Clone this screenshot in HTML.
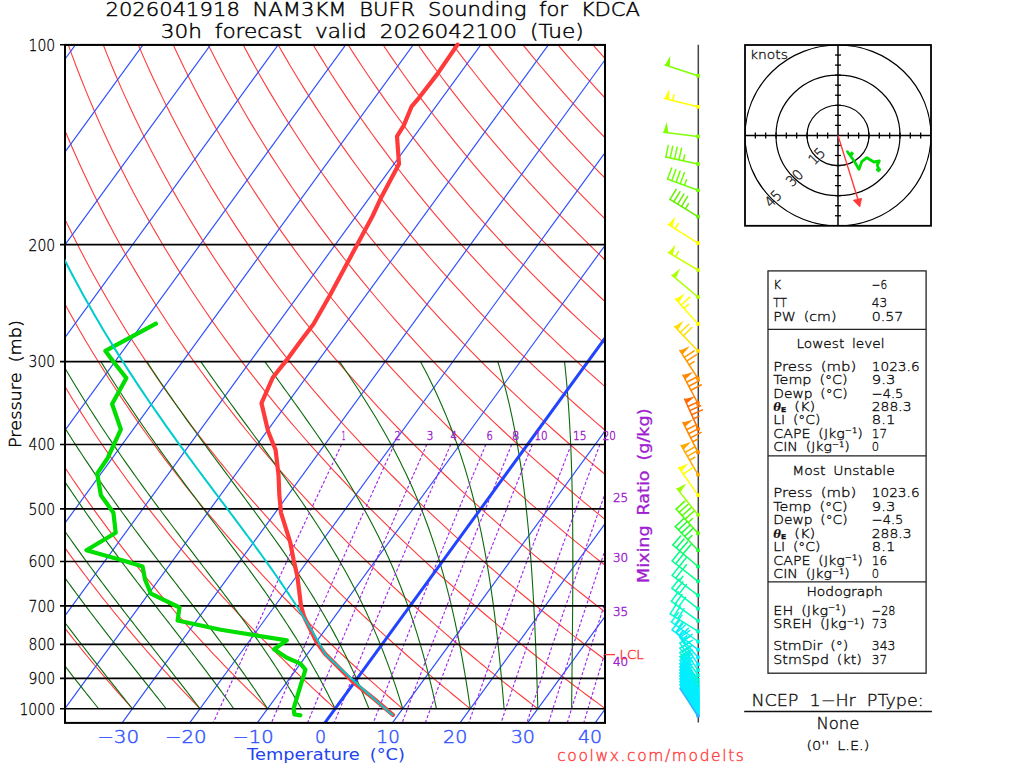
<!DOCTYPE html><html><head><meta charset="utf-8"><style>html,body{margin:0;padding:0;background:#fff;}svg{display:block}text{font-family:"DejaVu Sans","Liberation Sans",sans-serif;}</style></head><body>
<svg width="1024" height="768" viewBox="0 0 1024 768">
<defs><clipPath id="cp"><rect x="65" y="44.9" width="540" height="678"/></clipPath></defs>
<rect width="1024" height="768" fill="#fff"/>
<g clip-path="url(#cp)" fill="none">
<g stroke="#ff3b3b" stroke-width="1.1">
<polyline points="-2.7,708.75 -4.92,705.85 -7.14,702.92 -9.38,699.97 -11.63,696.98 -13.89,693.96 -16.15,690.91 -18.43,687.82 -20.72,684.71 -23.02,681.56 -25.33,678.37 -27.65,675.15 -29.99,671.89 -32.33,668.59 -34.68,665.26 -37.05,661.89 -39.43,658.48 -41.82,655.02 -44.22,651.53 -46.63,647.99 -49.06,644.41 -51.5,640.78 -53.95,637.11 -56.41,633.39 -58.89,629.62 -61.38,625.8 -63.88,621.93 -66.4,618 -68.92,614.03 -71.47,609.99 -74.02,605.9 -76.59,601.75 -79.18,597.54 -81.78,593.27 -84.39,588.94 -87.02,584.53 -89.66,580.06 -92.31,575.52 -94.99,570.91 -97.67,566.22 -100.38,561.45 -103.09,556.61 -105.83,551.68 -108.58,546.66 -111.34,541.56 -114.13,536.36 -116.92,531.07 -119.74,525.68 -122.57,520.19 -125.42,514.59 -128.28,508.88 -131.17,503.06 -134.06,497.11 -136.98,491.04 -139.92,484.84 -142.87,478.5 -145.83,472.02 -148.82,465.39 -151.82,458.61 -154.84,451.66 -157.88,444.54 -160.93,437.24 -164,429.75 -167.09,422.06 -170.19,414.16 -173.31,406.03 -176.44,397.68 -179.59,389.07 -182.75,380.19 -185.92,371.04 -189.1,361.58 -192.29,351.81 -195.49,341.69 -198.7,331.2 -201.9,320.32 -205.11,309.01 -208.31,297.24 -211.5,284.97 -214.67,272.15 -217.83,258.74 -220.95,244.67 -222.19,238.84 -223.43,232.9 -224.65,226.83 -225.87,220.63 -227.07,214.29 -228.27,207.81 -229.45,201.18 -230.63,194.39 -231.78,187.45 -232.92,180.33 -234.05,173.03 -235.15,165.54 -236.24,157.85 -237.3,149.94 -238.33,141.82 -239.34,133.46 -240.32,124.86 -241.26,115.98 -242.16,106.83 -243.02,97.37 -243.84,87.6 -244.6,77.48 -245.3,66.99 -245.94,56.11 -246.51,44.8 -247,33.03"/>
<polyline points="64.87,708.75 62.46,705.85 60.04,702.92 57.6,699.97 55.16,696.98 52.7,693.96 50.23,690.91 47.75,687.82 45.26,684.71 42.75,681.56 40.23,678.37 37.7,675.15 35.16,671.89 32.6,668.59 30.03,665.26 27.45,661.89 24.85,658.48 22.24,655.02 19.62,651.53 16.98,647.99 14.33,644.41 11.67,640.78 8.99,637.11 6.29,633.39 3.58,629.62 0.85,625.8 -1.89,621.93 -4.64,618 -7.41,614.03 -10.2,609.99 -13.01,605.9 -15.83,601.75 -18.66,597.54 -21.52,593.27 -24.39,588.94 -27.28,584.53 -30.18,580.06 -33.11,575.52 -36.05,570.91 -39.01,566.22 -41.99,561.45 -44.99,556.61 -48.01,551.68 -51.04,546.66 -54.1,541.56 -57.17,536.36 -60.27,531.07 -63.39,525.68 -66.53,520.19 -69.68,514.59 -72.86,508.88 -76.07,503.06 -79.29,497.11 -82.53,491.04 -85.8,484.84 -89.09,478.5 -92.41,472.02 -95.74,465.39 -99.1,458.61 -102.48,451.66 -105.89,444.54 -109.32,437.24 -112.77,429.75 -116.24,422.06 -119.74,414.16 -123.27,406.03 -126.81,397.68 -130.38,389.07 -133.97,380.19 -137.58,371.04 -141.22,361.58 -144.87,351.81 -148.54,341.69 -152.23,331.2 -155.94,320.32 -159.65,309.01 -163.38,297.24 -167.12,284.97 -170.85,272.15 -174.59,258.74 -178.31,244.67 -179.8,238.84 -181.28,232.9 -182.76,226.83 -184.23,220.63 -185.7,214.29 -187.16,207.81 -188.61,201.18 -190.06,194.39 -191.49,187.45 -192.92,180.33 -194.33,173.03 -195.73,165.54 -197.11,157.85 -198.48,149.94 -199.83,141.82 -201.15,133.46 -202.45,124.86 -203.72,115.98 -204.97,106.83 -206.18,97.37 -207.34,87.6 -208.47,77.48 -209.55,66.99 -210.57,56.11 -211.53,44.8 -212.43,33.03"/>
<polyline points="132.44,708.75 129.83,705.85 127.22,702.92 124.59,699.97 121.94,696.98 119.29,693.96 116.62,690.91 113.93,687.82 111.23,684.71 108.52,681.56 105.8,678.37 103.06,675.15 100.3,671.89 97.53,668.59 94.75,665.26 91.95,661.89 89.14,658.48 86.31,655.02 83.46,651.53 80.6,647.99 77.72,644.41 74.83,640.78 71.92,637.11 68.99,633.39 66.05,629.62 63.09,625.8 60.11,621.93 57.11,618 54.1,614.03 51.06,609.99 48.01,605.9 44.94,601.75 41.85,597.54 38.74,593.27 35.61,588.94 32.46,584.53 29.29,580.06 26.1,575.52 22.89,570.91 19.65,566.22 16.4,561.45 13.12,556.61 9.82,551.68 6.49,546.66 3.15,541.56 -0.22,536.36 -3.62,531.07 -7.04,525.68 -10.48,520.19 -13.95,514.59 -17.45,508.88 -20.97,503.06 -24.51,497.11 -28.09,491.04 -31.69,484.84 -35.32,478.5 -38.98,472.02 -42.66,465.39 -46.38,458.61 -50.12,451.66 -53.89,444.54 -57.7,437.24 -61.53,429.75 -65.4,422.06 -69.29,414.16 -73.22,406.03 -77.18,397.68 -81.17,389.07 -85.19,380.19 -89.25,371.04 -93.33,361.58 -97.45,351.81 -101.59,341.69 -105.77,331.2 -109.97,320.32 -114.2,309.01 -118.46,297.24 -122.73,284.97 -127.03,272.15 -131.34,258.74 -135.67,244.67 -137.4,238.84 -139.13,232.9 -140.86,226.83 -142.59,220.63 -144.32,214.29 -146.05,207.81 -147.77,201.18 -149.49,194.39 -151.2,187.45 -152.91,180.33 -154.61,173.03 -156.31,165.54 -157.99,157.85 -159.66,149.94 -161.32,141.82 -162.96,133.46 -164.59,124.86 -166.19,115.98 -167.77,106.83 -169.33,97.37 -170.85,87.6 -172.34,77.48 -173.8,66.99 -175.2,56.11 -176.56,44.8 -177.86,33.03"/>
<polyline points="200.01,708.75 197.21,705.85 194.4,702.92 191.57,699.97 188.73,696.98 185.87,693.96 183,690.91 180.11,687.82 177.21,684.71 174.29,681.56 171.36,678.37 168.41,675.15 165.45,671.89 162.47,668.59 159.47,665.26 156.45,661.89 153.42,658.48 150.37,655.02 147.3,651.53 144.22,647.99 141.12,644.41 138,640.78 134.86,637.11 131.7,633.39 128.52,629.62 125.32,625.8 122.1,621.93 118.87,618 115.61,614.03 112.33,609.99 109.03,605.9 105.71,601.75 102.36,597.54 99,593.27 95.61,588.94 92.2,584.53 88.76,580.06 85.3,575.52 81.82,570.91 78.31,566.22 74.78,561.45 71.22,556.61 67.64,551.68 64.03,546.66 60.39,541.56 56.73,536.36 53.03,531.07 49.31,525.68 45.56,520.19 41.78,514.59 37.97,508.88 34.13,503.06 30.26,497.11 26.36,491.04 22.42,484.84 18.46,478.5 14.45,472.02 10.42,465.39 6.35,458.61 2.24,451.66 -1.9,444.54 -6.08,437.24 -10.3,429.75 -14.55,422.06 -18.84,414.16 -23.18,406.03 -27.55,397.68 -31.96,389.07 -36.41,380.19 -40.91,371.04 -45.44,361.58 -50.02,351.81 -54.64,341.69 -59.3,331.2 -64,320.32 -68.75,309.01 -73.53,297.24 -78.35,284.97 -83.21,272.15 -88.1,258.74 -93.02,244.67 -95,238.84 -96.98,232.9 -98.97,226.83 -100.95,220.63 -102.94,214.29 -104.93,207.81 -106.93,201.18 -108.92,194.39 -110.91,187.45 -112.9,180.33 -114.89,173.03 -116.88,165.54 -118.86,157.85 -120.84,149.94 -122.81,141.82 -124.77,133.46 -126.72,124.86 -128.66,115.98 -130.58,106.83 -132.48,97.37 -134.36,87.6 -136.22,77.48 -138.04,66.99 -139.83,56.11 -141.59,44.8 -143.29,33.03"/>
<polyline points="267.58,708.75 264.59,705.85 261.58,702.92 258.55,699.97 255.51,696.98 252.46,693.96 249.38,690.91 246.3,687.82 243.19,684.71 240.07,681.56 236.93,678.37 233.77,675.15 230.59,671.89 227.4,668.59 224.18,665.26 220.95,661.89 217.7,658.48 214.43,655.02 211.15,651.53 207.84,647.99 204.51,644.41 201.16,640.78 197.79,637.11 194.4,633.39 190.99,629.62 187.55,625.8 184.1,621.93 180.62,618 177.12,614.03 173.59,609.99 170.05,605.9 166.47,601.75 162.88,597.54 159.25,593.27 155.61,588.94 151.93,584.53 148.24,580.06 144.51,575.52 140.76,570.91 136.98,566.22 133.17,561.45 129.33,556.61 125.46,551.68 121.56,546.66 117.64,541.56 113.68,536.36 109.69,531.07 105.66,525.68 101.61,520.19 97.52,514.59 93.39,508.88 89.23,503.06 85.04,497.11 80.81,491.04 76.54,484.84 72.23,478.5 67.88,472.02 63.5,465.39 59.07,458.61 54.6,451.66 50.09,444.54 45.54,437.24 40.94,429.75 36.29,422.06 31.6,414.16 26.87,406.03 22.08,397.68 17.25,389.07 12.36,380.19 7.43,371.04 2.44,361.58 -2.6,351.81 -7.69,341.69 -12.84,331.2 -18.04,320.32 -23.29,309.01 -28.6,297.24 -33.97,284.97 -39.39,272.15 -44.86,258.74 -50.38,244.67 -52.6,238.84 -54.83,232.9 -57.07,226.83 -59.31,220.63 -61.57,214.29 -63.82,207.81 -66.08,201.18 -68.35,194.39 -70.62,187.45 -72.9,180.33 -75.18,173.03 -77.46,165.54 -79.74,157.85 -82.02,149.94 -84.3,141.82 -86.58,133.46 -88.86,124.86 -91.12,115.98 -93.39,106.83 -95.63,97.37 -97.87,87.6 -100.09,77.48 -102.29,66.99 -104.47,56.11 -106.61,44.8 -108.72,33.03"/>
<polyline points="335.15,708.75 331.96,705.85 328.76,702.92 325.54,699.97 322.3,696.98 319.04,693.96 315.77,690.91 312.48,687.82 309.17,684.71 305.84,681.56 302.49,678.37 299.12,675.15 295.74,671.89 292.33,668.59 288.9,665.26 285.45,661.89 281.99,658.48 278.5,655.02 274.99,651.53 271.46,647.99 267.9,644.41 264.33,640.78 260.73,637.11 257.1,633.39 253.46,629.62 249.79,625.8 246.09,621.93 242.37,618 238.63,614.03 234.86,609.99 231.06,605.9 227.24,601.75 223.39,597.54 219.51,593.27 215.61,588.94 211.67,584.53 207.71,580.06 203.72,575.52 199.69,570.91 195.64,566.22 191.55,561.45 187.43,556.61 183.28,551.68 179.1,546.66 174.88,541.56 170.63,536.36 166.34,531.07 162.01,525.68 157.65,520.19 153.25,514.59 148.81,508.88 144.33,503.06 139.81,497.11 135.25,491.04 130.65,484.84 126,478.5 121.31,472.02 116.58,465.39 111.79,458.61 106.96,451.66 102.08,444.54 97.15,437.24 92.17,429.75 87.14,422.06 82.05,414.16 76.91,406.03 71.71,397.68 66.46,389.07 61.14,380.19 55.77,371.04 50.33,361.58 44.83,351.81 39.26,341.69 33.63,331.2 27.93,320.32 22.16,309.01 16.32,297.24 10.41,284.97 4.43,272.15 -1.62,258.74 -7.74,244.67 -10.21,238.84 -12.69,232.9 -15.18,226.83 -17.68,220.63 -20.19,214.29 -22.71,207.81 -25.24,201.18 -27.78,194.39 -30.33,187.45 -32.89,180.33 -35.46,173.03 -38.03,165.54 -40.62,157.85 -43.2,149.94 -45.8,141.82 -48.39,133.46 -50.99,124.86 -53.59,115.98 -56.19,106.83 -58.79,97.37 -61.38,87.6 -63.96,77.48 -66.54,66.99 -69.1,56.11 -71.64,44.8 -74.15,33.03"/>
<polyline points="402.72,708.75 399.34,705.85 395.94,702.92 392.52,699.97 389.09,696.98 385.63,693.96 382.15,690.91 378.66,687.82 375.14,684.71 371.61,681.56 368.05,678.37 364.48,675.15 360.88,671.89 357.26,668.59 353.62,665.26 349.96,661.89 346.27,658.48 342.56,655.02 338.83,651.53 335.07,647.99 331.29,644.41 327.49,640.78 323.66,637.11 319.81,633.39 315.93,629.62 312.02,625.8 308.09,621.93 304.13,618 300.14,614.03 296.12,609.99 292.08,605.9 288.01,601.75 283.9,597.54 279.77,593.27 275.61,588.94 271.41,584.53 267.18,580.06 262.92,575.52 258.63,570.91 254.3,566.22 249.94,561.45 245.54,556.61 241.11,551.68 236.63,546.66 232.13,541.56 227.58,536.36 222.99,531.07 218.36,525.68 213.7,520.19 208.98,514.59 204.23,508.88 199.43,503.06 194.59,497.11 189.7,491.04 184.76,484.84 179.78,478.5 174.74,472.02 169.66,465.39 164.52,458.61 159.32,451.66 154.08,444.54 148.77,437.24 143.41,429.75 137.99,422.06 132.5,414.16 126.96,406.03 121.35,397.68 115.67,389.07 109.92,380.19 104.1,371.04 98.21,361.58 92.25,351.81 86.21,341.69 80.09,331.2 73.89,320.32 67.61,309.01 61.25,297.24 54.79,284.97 48.25,272.15 41.62,258.74 34.9,244.67 32.19,238.84 29.46,232.9 26.72,226.83 23.96,220.63 21.19,214.29 18.4,207.81 15.6,201.18 12.79,194.39 9.96,187.45 7.12,180.33 4.26,173.03 1.39,165.54 -1.49,157.85 -4.38,149.94 -7.29,141.82 -10.2,133.46 -13.13,124.86 -16.06,115.98 -19,106.83 -21.94,97.37 -24.89,87.6 -27.84,77.48 -30.78,66.99 -33.73,56.11 -36.66,44.8 -39.58,33.03"/>
<polyline points="470.29,708.75 466.71,705.85 463.12,702.92 459.51,699.97 455.87,696.98 452.22,693.96 448.54,690.91 444.84,687.82 441.12,684.71 437.38,681.56 433.62,678.37 429.83,675.15 426.02,671.89 422.19,668.59 418.34,665.26 414.46,661.89 410.55,658.48 406.63,655.02 402.67,651.53 398.69,647.99 394.69,644.41 390.65,640.78 386.6,637.11 382.51,633.39 378.4,629.62 374.25,625.8 370.08,621.93 365.88,618 361.65,614.03 357.39,609.99 353.1,605.9 348.77,601.75 344.42,597.54 340.03,593.27 335.6,588.94 331.15,584.53 326.65,580.06 322.13,575.52 317.56,570.91 312.96,566.22 308.32,561.45 303.64,556.61 298.93,551.68 294.17,546.66 289.37,541.56 284.53,536.36 279.64,531.07 274.71,525.68 269.74,520.19 264.72,514.59 259.65,508.88 254.53,503.06 249.37,497.11 244.15,491.04 238.88,484.84 233.55,478.5 228.17,472.02 222.74,465.39 217.24,458.61 211.69,451.66 206.07,444.54 200.39,437.24 194.65,429.75 188.83,422.06 182.95,414.16 177,406.03 170.98,397.68 164.88,389.07 158.7,380.19 152.44,371.04 146.1,361.58 139.67,351.81 133.16,341.69 126.56,331.2 119.86,320.32 113.07,309.01 106.17,297.24 99.18,284.97 92.08,272.15 84.87,258.74 77.55,244.67 74.59,238.84 71.61,232.9 68.61,226.83 65.6,220.63 62.57,214.29 59.51,207.81 56.44,201.18 53.36,194.39 50.25,187.45 47.12,180.33 43.98,173.03 40.81,165.54 37.63,157.85 34.44,149.94 31.22,141.82 27.99,133.46 24.74,124.86 21.47,115.98 18.2,106.83 14.91,97.37 11.6,87.6 8.29,77.48 4.97,66.99 1.64,56.11 -1.69,44.8 -5.01,33.03"/>
<polyline points="537.86,708.75 534.09,705.85 530.3,702.92 526.49,699.97 522.66,696.98 518.8,693.96 514.92,690.91 511.02,687.82 507.1,684.71 503.15,681.56 499.18,678.37 495.19,675.15 491.17,671.89 487.12,668.59 483.05,665.26 478.96,661.89 474.84,658.48 470.69,655.02 466.51,651.53 462.31,647.99 458.08,644.41 453.82,640.78 449.53,637.11 445.21,633.39 440.87,629.62 436.49,625.8 432.08,621.93 427.63,618 423.16,614.03 418.65,609.99 414.11,605.9 409.54,601.75 404.93,597.54 400.28,593.27 395.6,588.94 390.88,584.53 386.13,580.06 381.33,575.52 376.5,570.91 371.62,566.22 366.71,561.45 361.75,556.61 356.75,551.68 351.7,546.66 346.61,541.56 341.48,536.36 336.3,531.07 331.06,525.68 325.78,520.19 320.45,514.59 315.07,508.88 309.63,503.06 304.14,497.11 298.59,491.04 292.99,484.84 287.33,478.5 281.6,472.02 275.81,465.39 269.96,458.61 264.05,451.66 258.06,444.54 252.01,437.24 245.88,429.75 239.68,422.06 233.4,414.16 227.05,406.03 220.61,397.68 214.09,389.07 207.48,380.19 200.78,371.04 193.99,361.58 187.1,351.81 180.11,341.69 173.02,331.2 165.83,320.32 158.52,309.01 151.1,297.24 143.56,284.97 135.9,272.15 128.11,258.74 120.19,244.67 116.99,238.84 113.76,232.9 110.51,226.83 107.24,220.63 103.94,214.29 100.63,207.81 97.29,201.18 93.92,194.39 90.54,187.45 87.13,180.33 83.7,173.03 80.24,165.54 76.76,157.85 73.25,149.94 69.73,141.82 66.18,133.46 62.6,124.86 59.01,115.98 55.39,106.83 51.75,97.37 48.09,87.6 44.42,77.48 40.72,66.99 37.01,56.11 33.29,44.8 29.55,33.03"/>
<polyline points="605.43,708.75 601.47,705.85 597.48,702.92 593.47,699.97 589.44,696.98 585.39,693.96 581.31,690.91 577.21,687.82 573.08,684.71 568.92,681.56 564.75,678.37 560.54,675.15 556.31,671.89 552.06,668.59 547.77,665.26 543.46,661.89 539.12,658.48 534.75,655.02 530.35,651.53 525.93,647.99 521.47,644.41 516.98,640.78 512.47,637.11 507.92,633.39 503.33,629.62 498.72,625.8 494.07,621.93 489.39,618 484.67,614.03 479.92,609.99 475.13,605.9 470.31,601.75 465.44,597.54 460.54,593.27 455.6,588.94 450.62,584.53 445.6,580.06 440.54,575.52 435.43,570.91 430.29,566.22 425.09,561.45 419.86,556.61 414.57,551.68 409.24,546.66 403.86,541.56 398.43,536.36 392.95,531.07 387.41,525.68 381.83,520.19 376.19,514.59 370.49,508.88 364.73,503.06 358.92,497.11 353.04,491.04 347.1,484.84 341.1,478.5 335.03,472.02 328.89,465.39 322.69,458.61 316.41,451.66 310.06,444.54 303.63,437.24 297.12,429.75 290.53,422.06 283.85,414.16 277.09,406.03 270.24,397.68 263.3,389.07 256.26,380.19 249.12,371.04 241.87,361.58 234.52,351.81 227.06,341.69 219.49,331.2 211.79,320.32 203.97,309.01 196.02,297.24 187.94,284.97 179.72,272.15 171.35,258.74 162.83,244.67 159.38,238.84 155.91,232.9 152.4,226.83 148.88,220.63 145.32,214.29 141.74,207.81 138.13,201.18 134.49,194.39 130.83,187.45 127.14,180.33 123.41,173.03 119.66,165.54 115.88,157.85 112.07,149.94 108.23,141.82 104.37,133.46 100.47,124.86 96.54,115.98 92.58,106.83 88.6,97.37 84.59,87.6 80.54,77.48 76.47,66.99 72.38,56.11 68.26,44.8 64.12,33.03"/>
<polyline points="673,708.75 668.84,705.85 664.66,702.92 660.46,699.97 656.23,696.98 651.97,693.96 647.69,690.91 643.39,687.82 639.06,684.71 634.7,681.56 630.31,678.37 625.9,675.15 621.46,671.89 616.99,668.59 612.49,665.26 607.96,661.89 603.4,658.48 598.82,655.02 594.2,651.53 589.55,647.99 584.86,644.41 580.15,640.78 575.4,637.11 570.62,633.39 565.8,629.62 560.95,625.8 556.07,621.93 551.14,618 546.18,614.03 541.18,609.99 536.15,605.9 531.07,601.75 525.96,597.54 520.8,593.27 515.6,588.94 510.36,584.53 505.07,580.06 499.75,575.52 494.37,570.91 488.95,566.22 483.48,561.45 477.96,556.61 472.39,551.68 466.78,546.66 461.1,541.56 455.38,536.36 449.6,531.07 443.77,525.68 437.87,520.19 431.92,514.59 425.91,508.88 419.83,503.06 413.69,497.11 407.49,491.04 401.22,484.84 394.87,478.5 388.46,472.02 381.97,465.39 375.41,458.61 368.77,451.66 362.05,444.54 355.24,437.24 348.35,429.75 341.37,422.06 334.3,414.16 327.14,406.03 319.87,397.68 312.5,389.07 305.03,380.19 297.45,371.04 289.76,361.58 281.95,351.81 274.01,341.69 265.95,331.2 257.76,320.32 249.43,309.01 240.95,297.24 232.32,284.97 223.54,272.15 214.59,258.74 205.48,244.67 201.78,238.84 198.05,232.9 194.3,226.83 190.51,220.63 186.7,214.29 182.85,207.81 178.97,201.18 175.06,194.39 171.12,187.45 167.14,180.33 163.13,173.03 159.09,165.54 155.01,157.85 150.89,149.94 146.74,141.82 142.56,133.46 138.33,124.86 134.07,115.98 129.78,106.83 125.45,97.37 121.08,87.6 116.67,77.48 112.23,66.99 107.75,56.11 103.24,44.8 98.69,33.03"/>
<polyline points="740.57,708.75 736.22,705.85 731.84,702.92 727.44,699.97 723.01,696.98 718.56,693.96 714.08,690.91 709.57,687.82 705.03,684.71 700.47,681.56 695.88,678.37 691.25,675.15 686.6,671.89 681.92,668.59 677.21,665.26 672.46,661.89 667.69,658.48 662.88,655.02 658.04,651.53 653.16,647.99 648.26,644.41 643.31,640.78 638.34,637.11 633.32,633.39 628.27,629.62 623.19,625.8 618.06,621.93 612.9,618 607.69,614.03 602.45,609.99 597.17,605.9 591.84,601.75 586.47,597.54 581.06,593.27 575.6,588.94 570.1,584.53 564.55,580.06 558.95,575.52 553.31,570.91 547.61,566.22 541.86,561.45 536.07,556.61 530.22,551.68 524.31,546.66 518.35,541.56 512.33,536.36 506.25,531.07 500.12,525.68 493.92,520.19 487.65,514.59 481.33,508.88 474.93,503.06 468.47,497.11 461.94,491.04 455.33,484.84 448.65,478.5 441.89,472.02 435.05,465.39 428.13,458.61 421.13,451.66 414.04,444.54 406.86,437.24 399.59,429.75 392.22,422.06 384.75,414.16 377.18,406.03 369.5,397.68 361.71,389.07 353.81,380.19 345.79,371.04 337.65,361.58 329.37,351.81 320.96,341.69 312.42,331.2 303.72,320.32 294.88,309.01 285.88,297.24 276.71,284.97 267.36,272.15 257.84,258.74 248.12,244.67 244.18,238.84 240.2,232.9 236.19,226.83 232.15,220.63 228.08,214.29 223.96,207.81 219.82,201.18 215.63,194.39 211.41,187.45 207.15,180.33 202.85,173.03 198.51,165.54 194.13,157.85 189.71,149.94 185.25,141.82 180.75,133.46 176.2,124.86 171.61,115.98 166.97,106.83 162.29,97.37 157.57,87.6 152.8,77.48 147.98,66.99 143.12,56.11 138.21,44.8 133.26,33.03"/>
<polyline points="808.14,708.75 803.6,705.85 799.02,702.92 794.43,699.97 789.8,696.98 785.15,693.96 780.46,690.91 775.75,687.82 771.01,684.71 766.24,681.56 761.44,678.37 756.61,675.15 751.75,671.89 746.85,668.59 741.92,665.26 736.96,661.89 731.97,658.48 726.94,655.02 721.88,651.53 716.78,647.99 711.65,644.41 706.48,640.78 701.27,637.11 696.03,633.39 690.74,629.62 685.42,625.8 680.06,621.93 674.65,618 669.2,614.03 663.72,609.99 658.18,605.9 652.61,601.75 646.98,597.54 641.31,593.27 635.6,588.94 629.83,584.53 624.02,580.06 618.16,575.52 612.24,570.91 606.27,566.22 600.25,561.45 594.17,556.61 588.04,551.68 581.85,546.66 575.59,541.56 569.28,536.36 562.91,531.07 556.47,525.68 549.96,520.19 543.39,514.59 536.75,508.88 530.03,503.06 523.24,497.11 516.38,491.04 509.44,484.84 502.42,478.5 495.32,472.02 488.13,465.39 480.86,458.61 473.49,451.66 466.03,444.54 458.48,437.24 450.82,429.75 443.07,422.06 435.2,414.16 427.22,406.03 419.13,397.68 410.92,389.07 402.59,380.19 394.13,371.04 385.53,361.58 376.8,351.81 367.91,341.69 358.88,331.2 349.69,320.32 340.33,309.01 330.8,297.24 321.09,284.97 311.18,272.15 301.08,258.74 290.76,244.67 286.57,238.84 282.35,232.9 278.09,226.83 273.79,220.63 269.45,214.29 265.08,207.81 260.66,201.18 256.2,194.39 251.7,187.45 247.16,180.33 242.57,173.03 237.93,165.54 233.26,157.85 228.53,149.94 223.76,141.82 218.94,133.46 214.06,124.86 209.14,115.98 204.17,106.83 199.14,97.37 194.06,87.6 188.92,77.48 183.73,66.99 178.49,56.11 173.19,44.8 167.83,33.03"/>
<polyline points="875.71,708.75 870.97,705.85 866.2,702.92 861.41,699.97 856.59,696.98 851.73,693.96 846.85,690.91 841.93,687.82 836.99,684.71 832.01,681.56 827,678.37 821.96,675.15 816.89,671.89 811.78,668.59 806.64,665.26 801.46,661.89 796.25,658.48 791.01,655.02 785.72,651.53 780.4,647.99 775.04,644.41 769.64,640.78 764.21,637.11 758.73,633.39 753.21,629.62 747.65,625.8 742.05,621.93 736.4,618 730.71,614.03 724.98,609.99 719.2,605.9 713.37,601.75 707.5,597.54 701.57,593.27 695.6,588.94 689.57,584.53 683.49,580.06 677.36,575.52 671.18,570.91 664.94,566.22 658.64,561.45 652.28,556.61 645.86,551.68 639.38,546.66 632.84,541.56 626.23,536.36 619.56,531.07 612.82,525.68 606,520.19 599.12,514.59 592.16,508.88 585.13,503.06 578.02,497.11 570.83,491.04 563.56,484.84 556.2,478.5 548.75,472.02 541.21,465.39 533.58,458.61 525.85,451.66 518.03,444.54 510.1,437.24 502.06,429.75 493.91,422.06 485.65,414.16 477.27,406.03 468.77,397.68 460.13,389.07 451.37,380.19 442.47,371.04 433.42,361.58 424.22,351.81 414.86,341.69 405.35,331.2 395.66,320.32 385.79,309.01 375.73,297.24 365.47,284.97 355,272.15 344.32,258.74 333.41,244.67 328.97,238.84 324.5,232.9 319.98,226.83 315.43,220.63 310.83,214.29 306.19,207.81 301.5,201.18 296.77,194.39 291.99,187.45 287.16,180.33 282.29,173.03 277.36,165.54 272.38,157.85 267.35,149.94 262.27,141.82 257.13,133.46 251.93,124.86 246.67,115.98 241.36,106.83 235.99,97.37 230.55,87.6 225.05,77.48 219.49,66.99 213.86,56.11 208.16,44.8 202.4,33.03"/>
<polyline points="943.28,708.75 938.35,705.85 933.39,702.92 928.39,699.97 923.37,696.98 918.32,693.96 913.23,690.91 908.12,687.82 902.97,684.71 897.78,681.56 892.57,678.37 887.32,675.15 882.03,671.89 876.71,668.59 871.36,665.26 865.97,661.89 860.54,658.48 855.07,655.02 849.56,651.53 844.02,647.99 838.43,644.41 832.81,640.78 827.14,637.11 821.43,633.39 815.68,629.62 809.88,625.8 804.04,621.93 798.16,618 792.23,614.03 786.25,609.99 780.22,605.9 774.14,601.75 768.01,597.54 761.83,593.27 755.6,588.94 749.31,584.53 742.97,580.06 736.57,575.52 730.11,570.91 723.6,566.22 717.02,561.45 710.38,556.61 703.68,551.68 696.92,546.66 690.08,541.56 683.18,536.36 676.21,531.07 669.17,525.68 662.05,520.19 654.86,514.59 647.58,508.88 640.23,503.06 632.8,497.11 625.28,491.04 617.67,484.84 609.97,478.5 602.18,472.02 594.29,465.39 586.3,458.61 578.21,451.66 570.02,444.54 561.71,437.24 553.29,429.75 544.76,422.06 536.1,414.16 527.31,406.03 518.4,397.68 509.34,389.07 500.15,380.19 490.8,371.04 481.3,361.58 471.64,351.81 461.82,341.69 451.81,331.2 441.62,320.32 431.24,309.01 420.65,297.24 409.85,284.97 398.83,272.15 387.56,258.74 376.05,244.67 371.37,238.84 366.65,232.9 361.88,226.83 357.07,220.63 352.21,214.29 347.3,207.81 342.34,201.18 337.34,194.39 332.28,187.45 327.17,180.33 322,173.03 316.78,165.54 311.51,157.85 306.17,149.94 300.77,141.82 295.32,133.46 289.79,124.86 284.21,115.98 278.55,106.83 272.83,97.37 267.04,87.6 261.18,77.48 255.24,66.99 249.23,56.11 243.14,44.8 236.97,33.03"/>
<polyline points="1010.85,708.75 1005.72,705.85 1000.57,702.92 995.38,699.97 990.16,696.98 984.9,693.96 979.62,690.91 974.3,687.82 968.94,684.71 963.56,681.56 958.13,678.37 952.67,675.15 947.18,671.89 941.65,668.59 936.08,665.26 930.47,661.89 924.82,658.48 919.13,655.02 913.41,651.53 907.64,647.99 901.83,644.41 895.97,640.78 890.08,637.11 884.14,633.39 878.15,629.62 872.12,625.8 866.04,621.93 859.91,618 853.74,614.03 847.51,609.99 841.23,605.9 834.91,601.75 828.52,597.54 822.09,593.27 815.6,588.94 809.05,584.53 802.44,580.06 795.77,575.52 789.05,570.91 782.26,566.22 775.41,561.45 768.49,556.61 761.5,551.68 754.45,546.66 747.33,541.56 740.13,536.36 732.86,531.07 725.52,525.68 718.09,520.19 710.59,514.59 703,508.88 695.33,503.06 687.57,497.11 679.72,491.04 671.78,484.84 663.74,478.5 655.61,472.02 647.37,465.39 639.03,458.61 630.58,451.66 622.01,444.54 613.33,437.24 604.53,429.75 595.6,422.06 586.55,414.16 577.36,406.03 568.03,397.68 558.55,389.07 548.93,380.19 539.14,371.04 529.19,361.58 519.07,351.81 508.77,341.69 498.28,331.2 487.59,320.32 476.69,309.01 465.58,297.24 454.23,284.97 442.65,272.15 430.81,258.74 418.69,244.67 413.77,238.84 408.8,232.9 403.77,226.83 398.71,220.63 393.58,214.29 388.41,207.81 383.19,201.18 377.91,194.39 372.57,187.45 367.18,180.33 361.72,173.03 356.21,165.54 350.63,157.85 344.99,149.94 339.28,141.82 333.5,133.46 327.66,124.86 321.74,115.98 315.75,106.83 309.68,97.37 303.53,87.6 297.3,77.48 290.99,66.99 284.6,56.11 278.11,44.8 271.54,33.03"/>
<polyline points="1078.42,708.75 1073.1,705.85 1067.75,702.92 1062.36,699.97 1056.94,696.98 1051.49,693.96 1046,690.91 1040.48,687.82 1034.92,684.71 1029.33,681.56 1023.7,678.37 1018.03,675.15 1012.32,671.89 1006.58,668.59 1000.79,665.26 994.97,661.89 989.1,658.48 983.2,655.02 977.25,651.53 971.25,647.99 965.22,644.41 959.14,640.78 953.01,637.11 946.84,633.39 940.62,629.62 934.35,625.8 928.03,621.93 921.67,618 915.25,614.03 908.78,609.99 902.25,605.9 895.67,601.75 889.04,597.54 882.34,593.27 875.59,588.94 868.78,584.53 861.91,580.06 854.98,575.52 847.98,570.91 840.92,566.22 833.79,561.45 826.59,556.61 819.33,551.68 811.99,546.66 804.57,541.56 797.08,536.36 789.52,531.07 781.87,525.68 774.14,520.19 766.32,514.59 758.42,508.88 750.43,503.06 742.35,497.11 734.17,491.04 725.89,484.84 717.52,478.5 709.04,472.02 700.45,465.39 691.75,458.61 682.94,451.66 674,444.54 664.95,437.24 655.77,429.75 646.45,422.06 637,414.16 627.4,406.03 617.66,397.68 607.76,389.07 597.7,380.19 587.48,371.04 577.08,361.58 566.49,351.81 555.72,341.69 544.74,331.2 533.55,320.32 522.14,309.01 510.5,297.24 498.62,284.97 486.47,272.15 474.05,258.74 461.33,244.67 456.16,238.84 450.94,232.9 445.67,226.83 440.34,220.63 434.96,214.29 429.52,207.81 424.03,201.18 418.48,194.39 412.86,187.45 407.18,180.33 401.44,173.03 395.63,165.54 389.75,157.85 383.81,149.94 377.79,141.82 371.69,133.46 365.52,124.86 359.27,115.98 352.94,106.83 346.53,97.37 340.02,87.6 333.43,77.48 326.75,66.99 319.97,56.11 313.09,44.8 306.1,33.03"/>
<polyline points="1145.99,708.75 1140.48,705.85 1134.93,702.92 1129.34,699.97 1123.73,696.98 1118.08,693.96 1112.39,690.91 1106.66,687.82 1100.9,684.71 1095.1,681.56 1089.26,678.37 1083.38,675.15 1077.47,671.89 1071.51,668.59 1065.51,665.26 1059.47,661.89 1053.39,658.48 1047.26,655.02 1041.09,651.53 1034.87,647.99 1028.61,644.41 1022.3,640.78 1015.95,637.11 1009.54,633.39 1003.09,629.62 996.58,625.8 990.03,621.93 983.42,618 976.76,614.03 970.04,609.99 963.27,605.9 956.44,601.75 949.55,597.54 942.6,593.27 935.59,588.94 928.52,584.53 921.39,580.06 914.19,575.52 906.92,570.91 899.58,566.22 892.18,561.45 884.7,556.61 877.15,551.68 869.52,546.66 861.82,541.56 854.03,536.36 846.17,531.07 838.22,525.68 830.18,520.19 822.06,514.59 813.84,508.88 805.53,503.06 797.12,497.11 788.62,491.04 780.01,484.84 771.29,478.5 762.47,472.02 753.53,465.39 744.47,458.61 735.3,451.66 726,444.54 716.57,437.24 707,429.75 697.3,422.06 687.45,414.16 677.45,406.03 667.29,397.68 656.97,389.07 646.48,380.19 635.81,371.04 624.96,361.58 613.92,351.81 602.67,341.69 591.21,331.2 579.52,320.32 567.6,309.01 555.43,297.24 543,284.97 530.29,272.15 517.29,258.74 503.98,244.67 498.56,238.84 493.09,232.9 487.57,226.83 481.98,220.63 476.34,214.29 470.64,207.81 464.87,201.18 459.04,194.39 453.15,187.45 447.19,180.33 441.16,173.03 435.06,165.54 428.88,157.85 422.63,149.94 416.3,141.82 409.88,133.46 403.39,124.86 396.81,115.98 390.14,106.83 383.37,97.37 376.52,87.6 369.56,77.48 362.5,66.99 355.33,56.11 348.06,44.8 340.67,33.03"/>
<polyline points="1213.56,708.75 1207.85,705.85 1202.11,702.92 1196.33,699.97 1190.51,696.98 1184.66,693.96 1178.77,690.91 1172.84,687.82 1166.88,684.71 1160.87,681.56 1154.83,678.37 1148.74,675.15 1142.61,671.89 1136.44,668.59 1130.23,665.26 1123.97,661.89 1117.67,658.48 1111.32,655.02 1104.93,651.53 1098.49,647.99 1092,644.41 1085.47,640.78 1078.88,637.11 1072.25,633.39 1065.56,629.62 1058.82,625.8 1052.02,621.93 1045.17,618 1038.27,614.03 1031.31,609.99 1024.29,605.9 1017.2,601.75 1010.06,597.54 1002.86,593.27 995.59,588.94 988.26,584.53 980.86,580.06 973.39,575.52 965.86,570.91 958.25,566.22 950.56,561.45 942.81,556.61 934.97,551.68 927.06,546.66 919.06,541.56 910.98,536.36 902.82,531.07 894.57,525.68 886.23,520.19 877.79,514.59 869.26,508.88 860.63,503.06 851.9,497.11 843.06,491.04 834.12,484.84 825.07,478.5 815.9,472.02 806.61,465.39 797.2,458.61 787.66,451.66 777.99,444.54 768.18,437.24 758.24,429.75 748.14,422.06 737.9,414.16 727.49,406.03 716.92,397.68 706.18,389.07 695.26,380.19 684.15,371.04 672.85,361.58 661.34,351.81 649.62,341.69 637.67,331.2 625.49,320.32 613.05,309.01 600.35,297.24 587.38,284.97 574.11,272.15 560.53,258.74 546.62,244.67 540.96,238.84 535.24,232.9 529.46,226.83 523.62,220.63 517.72,214.29 511.75,207.81 505.71,201.18 499.61,194.39 493.44,187.45 487.2,180.33 480.88,173.03 474.48,165.54 468,157.85 461.45,149.94 454.8,141.82 448.07,133.46 441.25,124.86 434.34,115.98 427.33,106.83 420.22,97.37 413.01,87.6 405.69,77.48 398.25,66.99 390.7,56.11 383.03,44.8 375.24,33.03"/>
<polyline points="1281.13,708.75 1275.23,705.85 1269.29,702.92 1263.31,699.97 1257.3,696.98 1251.25,693.96 1245.16,690.91 1239.03,687.82 1232.85,684.71 1226.64,681.56 1220.39,678.37 1214.09,675.15 1207.75,671.89 1201.37,668.59 1194.94,665.26 1188.47,661.89 1181.95,658.48 1175.39,655.02 1168.77,651.53 1162.11,647.99 1155.4,644.41 1148.63,640.78 1141.82,637.11 1134.95,633.39 1128.03,629.62 1121.05,625.8 1114.02,621.93 1106.93,618 1099.78,614.03 1092.57,609.99 1085.3,605.9 1077.97,601.75 1070.58,597.54 1063.12,593.27 1055.59,588.94 1048,584.53 1040.33,580.06 1032.6,575.52 1024.79,570.91 1016.91,566.22 1008.95,561.45 1000.91,556.61 992.79,551.68 984.59,546.66 976.31,541.56 967.93,536.36 959.47,531.07 950.92,525.68 942.27,520.19 933.52,514.59 924.68,508.88 915.73,503.06 906.68,497.11 897.51,491.04 888.23,484.84 878.84,478.5 869.33,472.02 859.69,465.39 849.92,458.61 840.02,451.66 829.98,444.54 819.8,437.24 809.47,429.75 798.99,422.06 788.35,414.16 777.54,406.03 766.55,397.68 755.39,389.07 744.04,380.19 732.49,371.04 720.74,361.58 708.76,351.81 696.57,341.69 684.13,331.2 671.45,320.32 658.5,309.01 645.28,297.24 631.76,284.97 617.93,272.15 603.77,258.74 589.26,244.67 583.36,238.84 577.39,232.9 571.36,226.83 565.26,220.63 559.09,214.29 552.86,207.81 546.56,201.18 540.18,194.39 533.73,187.45 527.2,180.33 520.59,173.03 513.9,165.54 507.13,157.85 500.26,149.94 493.31,141.82 486.26,133.46 479.12,124.86 471.87,115.98 464.52,106.83 457.07,97.37 449.5,87.6 441.81,77.48 434.01,66.99 426.07,56.11 418.01,44.8 409.81,33.03"/>
<polyline points="1348.7,708.75 1342.6,705.85 1336.47,702.92 1330.3,699.97 1324.08,696.98 1317.83,693.96 1311.54,690.91 1305.21,687.82 1298.83,684.71 1292.41,681.56 1285.95,678.37 1279.45,675.15 1272.9,671.89 1266.3,668.59 1259.66,665.26 1252.97,661.89 1246.24,658.48 1239.45,655.02 1232.61,651.53 1225.73,647.99 1218.79,644.41 1211.8,640.78 1204.75,637.11 1197.65,633.39 1190.5,629.62 1183.28,625.8 1176.01,621.93 1168.68,618 1161.29,614.03 1153.84,609.99 1146.32,605.9 1138.74,601.75 1131.09,597.54 1123.37,593.27 1115.59,588.94 1107.73,584.53 1099.81,580.06 1091.8,575.52 1083.73,570.91 1075.57,566.22 1067.33,561.45 1059.02,556.61 1050.62,551.68 1042.13,546.66 1033.55,541.56 1024.89,536.36 1016.13,531.07 1007.27,525.68 998.31,520.19 989.26,514.59 980.1,508.88 970.83,503.06 961.45,497.11 951.96,491.04 942.35,484.84 932.61,478.5 922.76,472.02 912.77,465.39 902.64,458.61 892.38,451.66 881.98,444.54 871.42,437.24 860.71,429.75 849.84,422.06 838.8,414.16 827.58,406.03 816.19,397.68 804.6,389.07 792.82,380.19 780.83,371.04 768.62,361.58 756.19,351.81 743.52,341.69 730.6,331.2 717.42,320.32 703.96,309.01 690.21,297.24 676.14,284.97 661.75,272.15 647.02,258.74 631.91,244.67 625.75,238.84 619.54,232.9 613.25,226.83 606.9,220.63 600.47,214.29 593.97,207.81 587.4,201.18 580.75,194.39 574.02,187.45 567.21,180.33 560.31,173.03 553.33,165.54 546.25,157.85 539.08,149.94 531.82,141.82 524.45,133.46 516.98,124.86 509.41,115.98 501.72,106.83 493.91,97.37 485.99,87.6 477.94,77.48 469.76,66.99 461.44,56.11 452.98,44.8 444.38,33.03"/>
<polyline points="1416.27,708.75 1409.98,705.85 1403.65,702.92 1397.28,699.97 1390.87,696.98 1384.42,693.96 1377.93,690.91 1371.39,687.82 1364.81,684.71 1358.19,681.56 1351.52,678.37 1344.8,675.15 1338.04,671.89 1331.24,668.59 1324.38,665.26 1317.47,661.89 1310.52,658.48 1303.51,655.02 1296.46,651.53 1289.35,647.99 1282.18,644.41 1274.96,640.78 1267.69,637.11 1260.36,633.39 1252.97,629.62 1245.52,625.8 1238.01,621.93 1230.44,618 1222.8,614.03 1215.1,609.99 1207.34,605.9 1199.5,601.75 1191.6,597.54 1183.63,593.27 1175.59,588.94 1167.47,584.53 1159.28,580.06 1151.01,575.52 1142.66,570.91 1134.23,566.22 1125.72,561.45 1117.12,556.61 1108.44,551.68 1099.66,546.66 1090.8,541.56 1081.84,536.36 1072.78,531.07 1063.62,525.68 1054.36,520.19 1044.99,514.59 1035.52,508.88 1025.93,503.06 1016.23,497.11 1006.41,491.04 996.46,484.84 986.39,478.5 976.19,472.02 965.85,465.39 955.37,458.61 944.74,451.66 933.97,444.54 923.04,437.24 911.94,429.75 900.68,422.06 889.25,414.16 877.63,406.03 865.82,397.68 853.81,389.07 841.6,380.19 829.16,371.04 816.51,361.58 803.61,351.81 790.47,341.69 777.06,331.2 763.38,320.32 749.41,309.01 735.13,297.24 720.53,284.97 705.58,272.15 690.26,258.74 674.55,244.67 668.15,238.84 661.68,232.9 655.15,226.83 648.53,220.63 641.85,214.29 635.09,207.81 628.24,201.18 621.32,194.39 614.31,187.45 607.22,180.33 600.03,173.03 592.75,165.54 585.38,157.85 577.9,149.94 570.33,141.82 562.64,133.46 554.85,124.86 546.94,115.98 538.91,106.83 530.76,97.37 522.48,87.6 514.07,77.48 505.51,66.99 496.81,56.11 487.96,44.8 478.95,33.03"/>
<polyline points="1483.84,708.75 1477.36,705.85 1470.83,702.92 1464.26,699.97 1457.66,696.98 1451.01,693.96 1444.31,690.91 1437.57,687.82 1430.79,684.71 1423.96,681.56 1417.08,678.37 1410.16,675.15 1403.19,671.89 1396.17,668.59 1389.1,665.26 1381.98,661.89 1374.8,658.48 1367.58,655.02 1360.3,651.53 1352.96,647.99 1345.57,644.41 1338.13,640.78 1330.62,637.11 1323.06,633.39 1315.44,629.62 1307.75,625.8 1300,621.93 1292.19,618 1284.31,614.03 1276.37,609.99 1268.35,605.9 1260.27,601.75 1252.12,597.54 1243.89,593.27 1235.59,588.94 1227.21,584.53 1218.75,580.06 1210.22,575.52 1201.6,570.91 1192.89,566.22 1184.11,561.45 1175.23,556.61 1166.26,551.68 1157.2,546.66 1148.04,541.56 1138.79,536.36 1129.43,531.07 1119.97,525.68 1110.4,520.19 1100.73,514.59 1090.94,508.88 1081.03,503.06 1071,497.11 1060.85,491.04 1050.57,484.84 1040.16,478.5 1029.62,472.02 1018.93,465.39 1008.09,458.61 997.1,451.66 985.96,444.54 974.65,437.24 963.18,429.75 951.53,422.06 939.69,414.16 927.67,406.03 915.45,397.68 903.02,389.07 890.37,380.19 877.5,371.04 864.39,361.58 851.04,351.81 837.42,341.69 823.53,331.2 809.35,320.32 794.86,309.01 780.06,297.24 764.91,284.97 749.4,272.15 733.5,258.74 717.19,244.67 710.55,238.84 703.83,232.9 697.04,226.83 690.17,220.63 683.23,214.29 676.2,207.81 669.09,201.18 661.89,194.39 654.6,187.45 647.22,180.33 639.75,173.03 632.18,165.54 624.5,157.85 616.72,149.94 608.83,141.82 600.83,133.46 592.71,124.86 584.47,115.98 576.11,106.83 567.61,97.37 558.97,87.6 550.19,77.48 541.26,66.99 532.18,56.11 522.93,44.8 513.52,33.03"/>
<polyline points="1551.41,708.75 1544.73,705.85 1538.01,702.92 1531.25,699.97 1524.44,696.98 1517.59,693.96 1510.7,690.91 1503.75,687.82 1496.77,684.71 1489.73,681.56 1482.65,678.37 1475.51,675.15 1468.33,671.89 1461.1,668.59 1453.81,665.26 1446.48,661.89 1439.09,658.48 1431.64,655.02 1424.14,651.53 1416.58,647.99 1408.97,644.41 1401.29,640.78 1393.56,637.11 1385.76,633.39 1377.9,629.62 1369.98,625.8 1362,621.93 1353.94,618 1345.82,614.03 1337.63,609.99 1329.37,605.9 1321.04,601.75 1312.63,597.54 1304.15,593.27 1295.59,588.94 1286.95,584.53 1278.23,580.06 1269.42,575.52 1260.53,570.91 1251.56,566.22 1242.49,561.45 1233.33,556.61 1224.08,551.68 1214.73,546.66 1205.29,541.56 1195.74,536.36 1186.08,531.07 1176.32,525.68 1166.45,520.19 1156.46,514.59 1146.36,508.88 1136.13,503.06 1125.78,497.11 1115.3,491.04 1104.69,484.84 1093.94,478.5 1083.04,472.02 1072.01,465.39 1060.81,458.61 1049.47,451.66 1037.95,444.54 1026.27,437.24 1014.42,429.75 1002.37,422.06 990.14,414.16 977.72,406.03 965.08,397.68 952.23,389.07 939.15,380.19 925.84,371.04 912.28,361.58 898.46,351.81 884.37,341.69 869.99,331.2 855.32,320.32 840.32,309.01 824.98,297.24 809.29,284.97 793.22,272.15 776.74,258.74 759.84,244.67 752.95,238.84 745.98,232.9 738.94,226.83 731.81,220.63 724.6,214.29 717.31,207.81 709.93,201.18 702.46,194.39 694.89,187.45 687.23,180.33 679.47,173.03 671.6,165.54 663.63,157.85 655.54,149.94 647.34,141.82 639.02,133.46 630.58,124.86 622.01,115.98 613.3,106.83 604.45,97.37 595.46,87.6 586.32,77.48 577.02,66.99 567.55,56.11 557.91,44.8 548.09,33.03"/>
<polyline points="1618.98,708.75 1612.11,705.85 1605.19,702.92 1598.23,699.97 1591.23,696.98 1584.18,693.96 1577.08,690.91 1569.94,687.82 1562.74,684.71 1555.5,681.56 1548.21,678.37 1540.87,675.15 1533.48,671.89 1526.03,668.59 1518.53,665.26 1510.98,661.89 1503.37,658.48 1495.7,655.02 1487.98,651.53 1480.2,647.99 1472.36,644.41 1464.46,640.78 1456.49,637.11 1448.47,633.39 1440.37,629.62 1432.22,625.8 1423.99,621.93 1415.7,618 1407.33,614.03 1398.9,609.99 1390.39,605.9 1381.8,601.75 1373.14,597.54 1364.4,593.27 1355.59,588.94 1346.68,584.53 1337.7,580.06 1328.63,575.52 1319.47,570.91 1310.22,566.22 1300.88,561.45 1291.44,556.61 1281.9,551.68 1272.27,546.66 1262.53,541.56 1252.69,536.36 1242.73,531.07 1232.67,525.68 1222.49,520.19 1212.19,514.59 1201.77,508.88 1191.23,503.06 1180.55,497.11 1169.75,491.04 1158.8,484.84 1147.71,478.5 1136.47,472.02 1125.09,465.39 1113.54,458.61 1101.83,451.66 1089.95,444.54 1077.89,437.24 1065.65,429.75 1053.22,422.06 1040.59,414.16 1027.76,406.03 1014.71,397.68 1001.44,389.07 987.93,380.19 974.18,371.04 960.17,361.58 945.89,351.81 931.32,341.69 916.46,331.2 901.28,320.32 885.77,309.01 869.91,297.24 853.67,284.97 837.04,272.15 819.99,258.74 802.48,244.67 795.34,238.84 788.13,232.9 780.83,226.83 773.45,220.63 765.98,214.29 758.42,207.81 750.77,201.18 743.03,194.39 735.18,187.45 727.24,180.33 719.18,173.03 711.02,165.54 702.75,157.85 694.36,149.94 685.85,141.82 677.21,133.46 668.44,124.86 659.54,115.98 650.49,106.83 641.3,97.37 631.95,87.6 622.45,77.48 612.77,66.99 602.92,56.11 592.88,44.8 582.65,33.03"/>
</g>
<g stroke="#2a4cff" stroke-width="1.15">
<line x1="-486" y1="722.9" x2="7.79" y2="44.9"/>
<line x1="-418.43" y1="722.9" x2="75.36" y2="44.9"/>
<line x1="-350.86" y1="722.9" x2="142.93" y2="44.9"/>
<line x1="-283.29" y1="722.9" x2="210.5" y2="44.9"/>
<line x1="-215.72" y1="722.9" x2="278.07" y2="44.9"/>
<line x1="-148.15" y1="722.9" x2="345.64" y2="44.9"/>
<line x1="-80.58" y1="722.9" x2="413.21" y2="44.9"/>
<line x1="-13.01" y1="722.9" x2="480.78" y2="44.9"/>
<line x1="54.56" y1="722.9" x2="548.35" y2="44.9"/>
<line x1="122.13" y1="722.9" x2="615.92" y2="44.9"/>
<line x1="189.7" y1="722.9" x2="683.49" y2="44.9"/>
<line x1="257.27" y1="722.9" x2="751.06" y2="44.9"/>
<line x1="392.41" y1="722.9" x2="886.2" y2="44.9"/>
<line x1="459.98" y1="722.9" x2="953.77" y2="44.9"/>
<line x1="527.55" y1="722.9" x2="1021.34" y2="44.9"/>
<line x1="595.12" y1="722.9" x2="1088.91" y2="44.9"/>
</g>
<g stroke="#0a6a0a" stroke-width="1.1">
<polyline points="64.87,708.75 63.49,707.02 62.11,705.27 60.73,703.51 59.33,701.75 57.94,699.97 56.53,698.18 55.12,696.38 53.7,694.57 52.28,692.74 50.85,690.91 49.42,689.06 47.98,687.2 46.53,685.33 45.08,683.45 43.62,681.56 42.16,679.65 40.69,677.73 39.21,675.8 37.73,673.85 36.24,671.89 34.75,669.92 33.25,667.93 31.74,665.93 30.23,663.92 28.71,661.89 27.18,659.85 25.65,657.79 24.12,655.72 22.57,653.63 21.02,651.53 19.47,649.41 17.91,647.28 16.34,645.13 14.77,642.96 13.19,640.78 11.6,638.58 10.01,636.37 8.41,634.13 6.81,631.88 5.19,629.62 3.58,627.33 1.95,625.03 0.32,622.71 -1.31,620.36 -2.96,618 -4.61,615.62 -6.26,613.22 -7.93,610.8 -9.59,608.36 -11.27,605.9 -12.95,603.42 -14.64,600.92 -16.34,598.39 -18.04,595.84 -19.75,593.27 -21.46,590.68 -23.18,588.06 -24.91,585.42 -26.65,582.75 -28.39,580.06 -30.14,577.35 -31.9,574.61 -33.66,571.84 -35.43,569.04 -37.21,566.22 -38.99,563.37 -40.78,560.49 -42.58,557.58 -44.39,554.65 -46.2,551.68 -48.02,548.68 -49.85,545.65 -51.69,542.59 -53.53,539.49 -55.38,536.36 -57.24,533.2 -59.1,530 -60.98,526.77 -62.86,523.5 -64.75,520.19 -66.64,516.84 -68.55,513.46 -70.46,510.03 -72.38,506.57 -74.31,503.06 -76.24,499.5 -78.19,495.91 -80.14,492.26 -82.1,488.58 -84.07,484.84 -86.05,481.05 -88.03,477.22 -90.02,473.33 -92.03,469.39 -94.04,465.39 -96.06,461.34 -98.08,457.23 -100.12,453.06 -102.16,448.83 -104.22,444.54 -106.28,440.18 -108.35,435.76 -110.43,431.26 -112.51,426.7 -114.61,422.06 -116.71,417.34 -118.82,412.55 -120.95,407.68 -123.08,402.72 -125.21,397.68 -127.36,392.54 -129.51,387.31 -131.68,381.99 -133.85,376.57 -136.03,371.04 -138.21,365.4 -139.67,361.58"/>
<polyline points="98.65,708.75 97.26,707.02 95.86,705.27 94.46,703.51 93.04,701.75 91.62,699.97 90.2,698.18 88.76,696.38 87.32,694.57 85.87,692.74 84.41,690.91 82.95,689.06 81.48,687.2 80.01,685.33 78.52,683.45 77.03,681.56 75.53,679.65 74.03,677.73 72.52,675.8 71,673.85 69.47,671.89 67.94,669.92 66.4,667.93 64.85,665.93 63.29,663.92 61.73,661.89 60.16,659.85 58.59,657.79 57,655.72 55.41,653.63 53.82,651.53 52.21,649.41 50.6,647.28 48.98,645.13 47.35,642.96 45.72,640.78 44.08,638.58 42.43,636.37 40.78,634.13 39.12,631.88 37.45,629.62 35.77,627.33 34.09,625.03 32.4,622.71 30.7,620.36 28.99,618 27.28,615.62 25.56,613.22 23.83,610.8 22.09,608.36 20.35,605.9 18.6,603.42 16.84,600.92 15.08,598.39 13.31,595.84 11.52,593.27 9.74,590.68 7.94,588.06 6.14,585.42 4.33,582.75 2.51,580.06 0.68,577.35 -1.15,574.61 -3,571.84 -4.85,569.04 -6.7,566.22 -8.57,563.37 -10.44,560.49 -12.33,557.58 -14.22,554.65 -16.11,551.68 -18.02,548.68 -19.93,545.65 -21.86,542.59 -23.79,539.49 -25.73,536.36 -27.68,533.2 -29.63,530 -31.6,526.77 -33.57,523.5 -35.56,520.19 -37.55,516.84 -39.55,513.46 -41.56,510.03 -43.57,506.57 -45.6,503.06 -47.64,499.5 -49.68,495.91 -51.73,492.26 -53.8,488.58 -55.87,484.84 -57.95,481.05 -60.04,477.22 -62.14,473.33 -64.25,469.39 -66.37,465.39 -68.5,461.34 -70.64,457.23 -72.79,453.06 -74.95,448.83 -77.11,444.54 -79.29,440.18 -81.48,435.76 -83.68,431.26 -85.89,426.7 -88.1,422.06 -90.33,417.34 -92.57,412.55 -94.82,407.68 -97.07,402.72 -99.34,397.68 -101.62,392.54 -103.91,387.31 -106.2,381.99 -108.51,376.57 -110.83,371.04 -113.16,365.4 -114.71,361.58"/>
<polyline points="132.44,708.75 131.05,707.02 129.65,705.27 128.24,703.51 126.82,701.75 125.4,699.97 123.97,698.18 122.52,696.38 121.07,694.57 119.62,692.74 118.15,690.91 116.67,689.06 115.19,687.2 113.7,685.33 112.2,683.45 110.69,681.56 109.17,679.65 107.65,677.73 106.11,675.8 104.57,673.85 103.02,671.89 101.46,669.92 99.89,667.93 98.32,665.93 96.73,663.92 95.14,661.89 93.54,659.85 91.93,657.79 90.31,655.72 88.68,653.63 87.05,651.53 85.4,649.41 83.75,647.28 82.09,645.13 80.42,642.96 78.74,640.78 77.06,638.58 75.36,636.37 73.66,634.13 71.95,631.88 70.23,629.62 68.5,627.33 66.77,625.03 65.02,622.71 63.27,620.36 61.51,618 59.73,615.62 57.95,613.22 56.17,610.8 54.37,608.36 52.57,605.9 50.75,603.42 48.93,600.92 47.1,598.39 45.26,595.84 43.41,593.27 41.55,590.68 39.69,588.06 37.81,585.42 35.93,582.75 34.04,580.06 32.14,577.35 30.23,574.61 28.31,571.84 26.38,569.04 24.44,566.22 22.5,563.37 20.54,560.49 18.58,557.58 16.61,554.65 14.63,551.68 12.63,548.68 10.63,545.65 8.62,542.59 6.6,539.49 4.57,536.36 2.54,533.2 0.49,530 -1.57,526.77 -3.64,523.5 -5.71,520.19 -7.8,516.84 -9.9,513.46 -12,510.03 -14.12,506.57 -16.24,503.06 -18.38,499.5 -20.53,495.91 -22.68,492.26 -24.85,488.58 -27.03,484.84 -29.22,481.05 -31.42,477.22 -33.63,473.33 -35.85,469.39 -38.08,465.39 -40.32,461.34 -42.57,457.23 -44.83,453.06 -47.11,448.83 -49.39,444.54 -51.69,440.18 -54,435.76 -56.32,431.26 -58.65,426.7 -60.99,422.06 -63.34,417.34 -65.71,412.55 -68.09,407.68 -70.47,402.72 -72.87,397.68 -75.29,392.54 -77.71,387.31 -80.15,381.99 -82.59,376.57 -85.05,371.04 -87.52,365.4 -89.17,361.58"/>
<polyline points="166.22,708.75 164.86,707.02 163.48,705.27 162.09,703.51 160.7,701.75 159.29,699.97 157.87,698.18 156.45,696.38 155.01,694.57 153.56,692.74 152.11,690.91 150.64,689.06 149.16,687.2 147.68,685.33 146.18,683.45 144.68,681.56 143.16,679.65 141.63,677.73 140.1,675.8 138.55,673.85 137,671.89 135.43,669.92 133.85,667.93 132.27,665.93 130.67,663.92 129.06,661.89 127.45,659.85 125.82,657.79 124.18,655.72 122.54,653.63 120.88,651.53 119.21,649.41 117.54,647.28 115.85,645.13 114.15,642.96 112.44,640.78 110.73,638.58 109,636.37 107.26,634.13 105.51,631.88 103.76,629.62 101.99,627.33 100.21,625.03 98.42,622.71 96.62,620.36 94.81,618 93,615.62 91.17,613.22 89.33,610.8 87.48,608.36 85.62,605.9 83.75,603.42 81.87,600.92 79.99,598.39 78.09,595.84 76.18,593.27 74.26,590.68 72.33,588.06 70.39,585.42 68.44,582.75 66.48,580.06 64.51,577.35 62.53,574.61 60.53,571.84 58.53,569.04 56.52,566.22 54.5,563.37 52.47,560.49 50.42,557.58 48.37,554.65 46.31,551.68 44.23,548.68 42.15,545.65 40.05,542.59 37.95,539.49 35.83,536.36 33.7,533.2 31.56,530 29.41,526.77 27.25,523.5 25.08,520.19 22.9,516.84 20.71,513.46 18.5,510.03 16.28,506.57 14.06,503.06 11.82,499.5 9.57,495.91 7.31,492.26 5.03,488.58 2.75,484.84 0.45,481.05 -1.85,477.22 -4.17,473.33 -6.51,469.39 -8.85,465.39 -11.21,461.34 -13.58,457.23 -15.96,453.06 -18.35,448.83 -20.76,444.54 -23.18,440.18 -25.61,435.76 -28.05,431.26 -30.51,426.7 -32.98,422.06 -35.46,417.34 -37.96,412.55 -40.47,407.68 -42.99,402.72 -45.53,397.68 -48.08,392.54 -50.65,387.31 -53.22,381.99 -55.81,376.57 -58.42,371.04 -61.04,365.4 -62.79,361.58"/>
<polyline points="200.01,708.75 198.69,707.02 197.37,705.27 196.03,703.51 194.68,701.75 193.32,699.97 191.94,698.18 190.56,696.38 189.17,694.57 187.76,692.74 186.34,690.91 184.91,689.06 183.47,687.2 182.02,685.33 180.55,683.45 179.07,681.56 177.59,679.65 176.09,677.73 174.57,675.8 173.05,673.85 171.51,671.89 169.97,669.92 168.41,667.93 166.83,665.93 165.25,663.92 163.66,661.89 162.05,659.85 160.43,657.79 158.8,655.72 157.15,653.63 155.5,651.53 153.83,649.41 152.15,647.28 150.46,645.13 148.75,642.96 147.04,640.78 145.31,638.58 143.57,636.37 141.81,634.13 140.05,631.88 138.27,629.62 136.48,627.33 134.68,625.03 132.87,622.71 131.04,620.36 129.2,618 127.35,615.62 125.49,613.22 123.62,610.8 121.73,608.36 119.83,605.9 117.92,603.42 116,600.92 114.07,598.39 112.12,595.84 110.16,593.27 108.19,590.68 106.21,588.06 104.21,585.42 102.2,582.75 100.18,580.06 98.15,577.35 96.11,574.61 94.05,571.84 91.98,569.04 89.9,566.22 87.81,563.37 85.71,560.49 83.59,557.58 81.46,554.65 79.32,551.68 77.17,548.68 75,545.65 72.83,542.59 70.63,539.49 68.43,536.36 66.22,533.2 63.99,530 61.75,526.77 59.5,523.5 57.23,520.19 54.96,516.84 52.67,513.46 50.36,510.03 48.05,506.57 45.72,503.06 43.38,499.5 41.02,495.91 38.66,492.26 36.27,488.58 33.88,484.84 31.47,481.05 29.05,477.22 26.62,473.33 24.17,469.39 21.71,465.39 19.23,461.34 16.75,457.23 14.24,453.06 11.73,448.83 9.19,444.54 6.65,440.18 4.09,435.76 1.52,431.26 -1.07,426.7 -3.68,422.06 -6.3,417.34 -8.93,412.55 -11.58,407.68 -14.24,402.72 -16.92,397.68 -19.62,392.54 -22.33,387.31 -25.05,381.99 -27.79,376.57 -30.55,371.04 -33.32,365.4 -35.18,361.58"/>
<polyline points="233.79,708.75 232.56,707.02 231.31,705.27 230.05,703.51 228.78,701.75 227.5,699.97 226.2,698.18 224.89,696.38 223.57,694.57 222.23,692.74 220.88,690.91 219.52,689.06 218.15,687.2 216.76,685.33 215.36,683.45 213.95,681.56 212.52,679.65 211.08,677.73 209.62,675.8 208.15,673.85 206.67,671.89 205.17,669.92 203.66,667.93 202.14,665.93 200.6,663.92 199.05,661.89 197.48,659.85 195.9,657.79 194.31,655.72 192.7,653.63 191.08,651.53 189.44,649.41 187.79,647.28 186.12,645.13 184.44,642.96 182.75,640.78 181.04,638.58 179.31,636.37 177.57,634.13 175.82,631.88 174.05,629.62 172.27,627.33 170.47,625.03 168.66,622.71 166.83,620.36 164.99,618 163.13,615.62 161.26,613.22 159.38,610.8 157.48,608.36 155.56,605.9 153.63,603.42 151.69,600.92 149.73,598.39 147.75,595.84 145.76,593.27 143.76,590.68 141.74,588.06 139.71,585.42 137.66,582.75 135.6,580.06 133.52,577.35 131.43,574.61 129.32,571.84 127.2,569.04 125.07,566.22 122.92,563.37 120.75,560.49 118.57,557.58 116.38,554.65 114.17,551.68 111.95,548.68 109.71,545.65 107.46,542.59 105.19,539.49 102.91,536.36 100.61,533.2 98.3,530 95.98,526.77 93.64,523.5 91.28,520.19 88.91,516.84 86.53,513.46 84.13,510.03 81.71,506.57 79.28,503.06 76.84,499.5 74.38,495.91 71.91,492.26 69.42,488.58 66.91,484.84 64.39,481.05 61.86,477.22 59.31,473.33 56.74,469.39 54.16,465.39 51.56,461.34 48.95,457.23 46.32,453.06 43.67,448.83 41.01,444.54 38.34,440.18 35.64,435.76 32.93,431.26 30.21,426.7 27.46,422.06 24.7,417.34 21.92,412.55 19.13,407.68 16.32,402.72 13.49,397.68 10.64,392.54 7.78,387.31 4.89,381.99 1.99,376.57 -0.93,371.04 -3.86,365.4 -5.83,361.58"/>
<polyline points="267.58,708.75 266.45,707.02 265.32,705.27 264.17,703.51 263,701.75 261.83,699.97 260.64,698.18 259.44,696.38 258.22,694.57 256.99,692.74 255.75,690.91 254.49,689.06 253.22,687.2 251.93,685.33 250.63,683.45 249.31,681.56 247.98,679.65 246.64,677.73 245.28,675.8 243.91,673.85 242.52,671.89 241.11,669.92 239.69,667.93 238.25,665.93 236.8,663.92 235.33,661.89 233.85,659.85 232.35,657.79 230.83,655.72 229.3,653.63 227.75,651.53 226.19,649.41 224.6,647.28 223.01,645.13 221.39,642.96 219.76,640.78 218.11,638.58 216.44,636.37 214.75,634.13 213.05,631.88 211.33,629.62 209.6,627.33 207.84,625.03 206.07,622.71 204.28,620.36 202.47,618 200.65,615.62 198.81,613.22 196.95,610.8 195.07,608.36 193.17,605.9 191.26,603.42 189.32,600.92 187.37,598.39 185.4,595.84 183.42,593.27 181.41,590.68 179.39,588.06 177.35,585.42 175.29,582.75 173.21,580.06 171.12,577.35 169.01,574.61 166.88,571.84 164.73,569.04 162.56,566.22 160.37,563.37 158.17,560.49 155.95,557.58 153.71,554.65 151.45,551.68 149.18,548.68 146.89,545.65 144.58,542.59 142.25,539.49 139.9,536.36 137.54,533.2 135.15,530 132.75,526.77 130.34,523.5 127.9,520.19 125.45,516.84 122.98,513.46 120.49,510.03 117.98,506.57 115.46,503.06 112.91,499.5 110.35,495.91 107.78,492.26 105.18,488.58 102.57,484.84 99.93,481.05 97.28,477.22 94.62,473.33 91.93,469.39 89.23,465.39 86.5,461.34 83.76,457.23 81,453.06 78.22,448.83 75.43,444.54 72.61,440.18 69.78,435.76 66.93,431.26 64.05,426.7 61.16,422.06 58.25,417.34 55.32,412.55 52.37,407.68 49.4,402.72 46.41,397.68 43.4,392.54 40.37,387.31 37.32,381.99 34.25,376.57 31.15,371.04 28.04,365.4 25.95,361.58"/>
<polyline points="301.36,708.75 300.38,707.02 299.37,705.27 298.36,703.51 297.33,701.75 296.29,699.97 295.24,698.18 294.17,696.38 293.09,694.57 292,692.74 290.89,690.91 289.77,689.06 288.64,687.2 287.49,685.33 286.32,683.45 285.14,681.56 283.95,679.65 282.74,677.73 281.52,675.8 280.27,673.85 279.02,671.89 277.75,669.92 276.46,667.93 275.15,665.93 273.83,663.92 272.49,661.89 271.13,659.85 269.76,657.79 268.37,655.72 266.96,653.63 265.53,651.53 264.09,649.41 262.63,647.28 261.14,645.13 259.64,642.96 258.12,640.78 256.59,638.58 255.03,636.37 253.45,634.13 251.85,631.88 250.24,629.62 248.6,627.33 246.94,625.03 245.26,622.71 243.57,620.36 241.85,618 240.11,615.62 238.35,613.22 236.56,610.8 234.76,608.36 232.94,605.9 231.09,603.42 229.22,600.92 227.33,598.39 225.42,595.84 223.49,593.27 221.53,590.68 219.56,588.06 217.56,585.42 215.54,582.75 213.49,580.06 211.43,577.35 209.34,574.61 207.23,571.84 205.09,569.04 202.94,566.22 200.76,563.37 198.56,560.49 196.33,557.58 194.09,554.65 191.82,551.68 189.53,548.68 187.21,545.65 184.88,542.59 182.52,539.49 180.14,536.36 177.73,533.2 175.31,530 172.86,526.77 170.39,523.5 167.89,520.19 165.38,516.84 162.84,513.46 160.28,510.03 157.7,506.57 155.09,503.06 152.47,499.5 149.82,495.91 147.15,492.26 144.46,488.58 141.74,484.84 139.01,481.05 136.25,477.22 133.47,473.33 130.66,469.39 127.84,465.39 124.99,461.34 122.13,457.23 119.23,453.06 116.32,448.83 113.39,444.54 110.43,440.18 107.45,435.76 104.45,431.26 101.42,426.7 98.38,422.06 95.31,417.34 92.21,412.55 89.1,407.68 85.96,402.72 82.8,397.68 79.61,392.54 76.4,387.31 73.17,381.99 69.91,376.57 66.63,371.04 63.32,365.4 61.1,361.58"/>
<polyline points="335.15,708.75 334.31,707.02 333.46,705.27 332.6,703.51 331.73,701.75 330.85,699.97 329.95,698.18 329.05,696.38 328.13,694.57 327.19,692.74 326.25,690.91 325.29,689.06 324.32,687.2 323.33,685.33 322.34,683.45 321.32,681.56 320.3,679.65 319.25,677.73 318.2,675.8 317.13,673.85 316.04,671.89 314.94,669.92 313.82,667.93 312.68,665.93 311.53,663.92 310.37,661.89 309.18,659.85 307.98,657.79 306.76,655.72 305.52,653.63 304.27,651.53 302.99,649.41 301.7,647.28 300.39,645.13 299.06,642.96 297.71,640.78 296.34,638.58 294.95,636.37 293.53,634.13 292.1,631.88 290.65,629.62 289.17,627.33 287.68,625.03 286.16,622.71 284.62,620.36 283.05,618 281.47,615.62 279.85,613.22 278.22,610.8 276.56,608.36 274.88,605.9 273.17,603.42 271.44,600.92 269.69,598.39 267.91,595.84 266.1,593.27 264.27,590.68 262.41,588.06 260.52,585.42 258.61,582.75 256.67,580.06 254.71,577.35 252.72,574.61 250.7,571.84 248.65,569.04 246.58,566.22 244.47,563.37 242.34,560.49 240.19,557.58 238,554.65 235.78,551.68 233.54,548.68 231.27,545.65 228.97,542.59 226.64,539.49 224.28,536.36 221.9,533.2 219.48,530 217.04,526.77 214.57,523.5 212.07,520.19 209.54,516.84 206.98,513.46 204.39,510.03 201.77,506.57 199.13,503.06 196.46,499.5 193.76,495.91 191.03,492.26 188.27,488.58 185.48,484.84 182.67,481.05 179.82,477.22 176.95,473.33 174.05,469.39 171.12,465.39 168.17,461.34 165.19,457.23 162.17,453.06 159.14,448.83 156.07,444.54 152.98,440.18 149.85,435.76 146.7,431.26 143.53,426.7 140.32,422.06 137.09,417.34 133.83,412.55 130.54,407.68 127.22,402.72 123.87,397.68 120.5,392.54 117.1,387.31 113.67,381.99 110.21,376.57 106.72,371.04 103.21,365.4 100.84,361.58"/>
<polyline points="368.93,708.75 368.26,707.02 367.57,705.27 366.87,703.51 366.17,701.75 365.45,699.97 364.72,698.18 363.98,696.38 363.24,694.57 362.48,692.74 361.71,690.91 360.93,689.06 360.14,687.2 359.33,685.33 358.52,683.45 357.69,681.56 356.85,679.65 355.99,677.73 355.13,675.8 354.25,673.85 353.35,671.89 352.45,669.92 351.52,667.93 350.59,665.93 349.64,663.92 348.67,661.89 347.69,659.85 346.7,657.79 345.68,655.72 344.65,653.63 343.61,651.53 342.55,649.41 341.47,647.28 340.37,645.13 339.25,642.96 338.12,640.78 336.97,638.58 335.79,636.37 334.6,634.13 333.39,631.88 332.16,629.62 330.9,627.33 329.63,625.03 328.33,622.71 327.01,620.36 325.67,618 324.31,615.62 322.92,613.22 321.51,610.8 320.07,608.36 318.61,605.9 317.12,603.42 315.61,600.92 314.07,598.39 312.51,595.84 310.91,593.27 309.29,590.68 307.64,588.06 305.97,585.42 304.26,582.75 302.52,580.06 300.76,577.35 298.96,574.61 297.13,571.84 295.28,569.04 293.39,566.22 291.46,563.37 289.51,560.49 287.52,557.58 285.5,554.65 283.44,551.68 281.35,548.68 279.23,545.65 277.07,542.59 274.87,539.49 272.64,536.36 270.37,533.2 268.07,530 265.73,526.77 263.36,523.5 260.94,520.19 258.49,516.84 256.01,513.46 253.48,510.03 250.92,506.57 248.32,503.06 245.69,499.5 243.01,495.91 240.3,492.26 237.55,488.58 234.76,484.84 231.94,481.05 229.07,477.22 226.17,473.33 223.23,469.39 220.26,465.39 217.24,461.34 214.19,457.23 211.1,453.06 207.98,448.83 204.81,444.54 201.61,440.18 198.38,435.76 195.11,431.26 191.8,426.7 188.45,422.06 185.07,417.34 181.65,412.55 178.2,407.68 174.71,402.72 171.18,397.68 167.62,392.54 164.02,387.31 160.38,381.99 156.71,376.57 153.01,371.04 149.27,365.4 146.75,361.58"/>
<polyline points="402.72,708.75 402.2,707.02 401.67,705.27 401.13,703.51 400.59,701.75 400.04,699.97 399.48,698.18 398.91,696.38 398.33,694.57 397.75,692.74 397.15,690.91 396.55,689.06 395.94,687.2 395.32,685.33 394.69,683.45 394.05,681.56 393.4,679.65 392.74,677.73 392.07,675.8 391.39,673.85 390.69,671.89 389.99,669.92 389.28,667.93 388.55,665.93 387.81,663.92 387.06,661.89 386.3,659.85 385.52,657.79 384.73,655.72 383.93,653.63 383.11,651.53 382.28,649.41 381.44,647.28 380.58,645.13 379.7,642.96 378.81,640.78 377.9,638.58 376.98,636.37 376.04,634.13 375.08,631.88 374.11,629.62 373.11,627.33 372.1,625.03 371.07,622.71 370.02,620.36 368.95,618 367.86,615.62 366.75,613.22 365.61,610.8 364.46,608.36 363.28,605.9 362.08,603.42 360.86,600.92 359.61,598.39 358.33,595.84 357.03,593.27 355.71,590.68 354.35,588.06 352.97,585.42 351.56,582.75 350.13,580.06 348.66,577.35 347.16,574.61 345.64,571.84 344.08,569.04 342.48,566.22 340.86,563.37 339.2,560.49 337.51,557.58 335.78,554.65 334.01,551.68 332.21,548.68 330.37,545.65 328.49,542.59 326.57,539.49 324.61,536.36 322.61,533.2 320.57,530 318.49,526.77 316.37,523.5 314.2,520.19 311.98,516.84 309.73,513.46 307.42,510.03 305.07,506.57 302.67,503.06 300.23,499.5 297.73,495.91 295.19,492.26 292.6,488.58 289.96,484.84 287.27,481.05 284.53,477.22 281.74,473.33 278.89,469.39 276,465.39 273.06,461.34 270.06,457.23 267.01,453.06 263.91,448.83 260.76,444.54 257.56,440.18 254.3,435.76 251,431.26 247.64,426.7 244.23,422.06 240.77,417.34 237.26,412.55 233.7,407.68 230.09,402.72 226.43,397.68 222.71,392.54 218.95,387.31 215.14,381.99 211.28,376.57 207.37,371.04 203.41,365.4 200.75,361.58"/>
<polyline points="436.5,708.75 436.13,707.02 435.75,705.27 435.36,703.51 434.97,701.75 434.57,699.97 434.16,698.18 433.75,696.38 433.34,694.57 432.92,692.74 432.49,690.91 432.05,689.06 431.61,687.2 431.16,685.33 430.71,683.45 430.25,681.56 429.78,679.65 429.3,677.73 428.82,675.8 428.33,673.85 427.83,671.89 427.32,669.92 426.8,667.93 426.28,665.93 425.74,663.92 425.2,661.89 424.65,659.85 424.08,657.79 423.51,655.72 422.93,653.63 422.34,651.53 421.74,649.41 421.12,647.28 420.5,645.13 419.86,642.96 419.21,640.78 418.55,638.58 417.88,636.37 417.2,634.13 416.5,631.88 415.79,629.62 415.06,627.33 414.32,625.03 413.57,622.71 412.8,620.36 412.02,618 411.21,615.62 410.4,613.22 409.56,610.8 408.71,608.36 407.84,605.9 406.96,603.42 406.05,600.92 405.12,598.39 404.18,595.84 403.21,593.27 402.22,590.68 401.21,588.06 400.18,585.42 399.12,582.75 398.04,580.06 396.94,577.35 395.81,574.61 394.65,571.84 393.47,569.04 392.25,566.22 391.01,563.37 389.74,560.49 388.44,557.58 387.11,554.65 385.74,551.68 384.35,548.68 382.91,545.65 381.44,542.59 379.94,539.49 378.39,536.36 376.81,533.2 375.19,530 373.52,526.77 371.82,523.5 370.07,520.19 368.27,516.84 366.43,513.46 364.54,510.03 362.6,506.57 360.61,503.06 358.57,499.5 356.48,495.91 354.33,492.26 352.13,488.58 349.87,484.84 347.55,481.05 345.17,477.22 342.73,473.33 340.23,469.39 337.66,465.39 335.03,461.34 332.33,457.23 329.57,453.06 326.74,448.83 323.84,444.54 320.87,440.18 317.83,435.76 314.71,431.26 311.53,426.7 308.27,422.06 304.94,417.34 301.53,412.55 298.06,407.68 294.5,402.72 290.88,397.68 287.17,392.54 283.4,387.31 279.55,381.99 275.62,376.57 271.63,371.04 267.56,365.4 264.8,361.58"/>
<polyline points="470.29,708.75 470.04,707.02 469.79,705.27 469.53,703.51 469.28,701.75 469.01,699.97 468.75,698.18 468.48,696.38 468.2,694.57 467.93,692.74 467.64,690.91 467.36,689.06 467.07,687.2 466.77,685.33 466.47,683.45 466.17,681.56 465.86,679.65 465.55,677.73 465.23,675.8 464.91,673.85 464.58,671.89 464.24,669.92 463.9,667.93 463.56,665.93 463.21,663.92 462.85,661.89 462.49,659.85 462.12,657.79 461.74,655.72 461.36,653.63 460.97,651.53 460.57,649.41 460.17,647.28 459.76,645.13 459.34,642.96 458.91,640.78 458.48,638.58 458.03,636.37 457.58,634.13 457.12,631.88 456.65,629.62 456.17,627.33 455.69,625.03 455.19,622.71 454.68,620.36 454.16,618 453.63,615.62 453.09,613.22 452.54,610.8 451.97,608.36 451.4,605.9 450.81,603.42 450.2,600.92 449.59,598.39 448.96,595.84 448.31,593.27 447.65,590.68 446.98,588.06 446.29,585.42 445.58,582.75 444.86,580.06 444.12,577.35 443.36,574.61 442.58,571.84 441.78,569.04 440.96,566.22 440.12,563.37 439.26,560.49 438.38,557.58 437.47,554.65 436.54,551.68 435.58,548.68 434.6,545.65 433.59,542.59 432.55,539.49 431.49,536.36 430.39,533.2 429.26,530 428.1,526.77 426.91,523.5 425.68,520.19 424.41,516.84 423.11,513.46 421.76,510.03 420.38,506.57 418.95,503.06 417.48,499.5 415.97,495.91 414.4,492.26 412.79,488.58 411.12,484.84 409.4,481.05 407.63,477.22 405.8,473.33 403.9,469.39 401.95,465.39 399.93,461.34 397.84,457.23 395.69,453.06 393.46,448.83 391.15,444.54 388.77,440.18 386.31,435.76 383.77,431.26 381.15,426.7 378.43,422.06 375.63,417.34 372.73,412.55 369.73,407.68 366.64,402.72 363.45,397.68 360.16,392.54 356.76,387.31 353.26,381.99 349.65,376.57 345.93,371.04 342.09,365.4 339.48,361.58"/>
<polyline points="504.07,708.75 503.93,707.02 503.79,705.27 503.65,703.51 503.5,701.75 503.36,699.97 503.21,698.18 503.05,696.38 502.9,694.57 502.74,692.74 502.59,690.91 502.43,689.06 502.26,687.2 502.1,685.33 501.93,683.45 501.76,681.56 501.58,679.65 501.41,677.73 501.23,675.8 501.05,673.85 500.86,671.89 500.68,669.92 500.49,667.93 500.29,665.93 500.09,663.92 499.89,661.89 499.69,659.85 499.48,657.79 499.27,655.72 499.06,653.63 498.84,651.53 498.61,649.41 498.39,647.28 498.16,645.13 497.92,642.96 497.68,640.78 497.44,638.58 497.19,636.37 496.93,634.13 496.67,631.88 496.41,629.62 496.14,627.33 495.86,625.03 495.58,622.71 495.29,620.36 495,618 494.7,615.62 494.39,613.22 494.08,610.8 493.76,608.36 493.43,605.9 493.1,603.42 492.75,600.92 492.4,598.39 492.04,595.84 491.68,593.27 491.3,590.68 490.91,588.06 490.52,585.42 490.11,582.75 489.7,580.06 489.27,577.35 488.84,574.61 488.39,571.84 487.93,569.04 487.45,566.22 486.97,563.37 486.47,560.49 485.96,557.58 485.43,554.65 484.89,551.68 484.33,548.68 483.76,545.65 483.17,542.59 482.56,539.49 481.94,536.36 481.29,533.2 480.63,530 479.94,526.77 479.24,523.5 478.51,520.19 477.76,516.84 476.98,513.46 476.18,510.03 475.35,506.57 474.49,503.06 473.6,499.5 472.68,495.91 471.73,492.26 470.75,488.58 469.73,484.84 468.67,481.05 467.58,477.22 466.44,473.33 465.26,469.39 464.03,465.39 462.76,461.34 461.44,457.23 460.07,453.06 458.64,448.83 457.15,444.54 455.6,440.18 453.99,435.76 452.31,431.26 450.56,426.7 448.74,422.06 446.84,417.34 444.85,412.55 442.78,407.68 440.62,402.72 438.36,397.68 436,392.54 433.53,387.31 430.95,381.99 428.26,376.57 425.44,371.04 422.5,365.4 420.46,361.58"/>
<polyline points="537.86,708.75 537.81,707.02 537.76,705.27 537.7,703.51 537.65,701.75 537.59,699.97 537.54,698.18 537.48,696.38 537.43,694.57 537.37,692.74 537.31,690.91 537.25,689.06 537.19,687.2 537.13,685.33 537.07,683.45 537,681.56 536.94,679.65 536.87,677.73 536.81,675.8 536.74,673.85 536.67,671.89 536.6,669.92 536.53,667.93 536.46,665.93 536.39,663.92 536.31,661.89 536.23,659.85 536.16,657.79 536.08,655.72 536,653.63 535.91,651.53 535.83,649.41 535.74,647.28 535.66,645.13 535.57,642.96 535.47,640.78 535.38,638.58 535.28,636.37 535.19,634.13 535.09,631.88 534.98,629.62 534.88,627.33 534.77,625.03 534.66,622.71 534.55,620.36 534.43,618 534.32,615.62 534.2,613.22 534.07,610.8 533.94,608.36 533.81,605.9 533.68,603.42 533.54,600.92 533.4,598.39 533.26,595.84 533.11,593.27 532.95,590.68 532.8,588.06 532.64,585.42 532.47,582.75 532.3,580.06 532.12,577.35 531.94,574.61 531.75,571.84 531.56,569.04 531.36,566.22 531.16,563.37 530.94,560.49 530.73,557.58 530.5,554.65 530.27,551.68 530.03,548.68 529.78,545.65 529.52,542.59 529.26,539.49 528.98,536.36 528.7,533.2 528.41,530 528.1,526.77 527.79,523.5 527.46,520.19 527.12,516.84 526.77,513.46 526.4,510.03 526.03,506.57 525.63,503.06 525.22,499.5 524.8,495.91 524.36,492.26 523.9,488.58 523.42,484.84 522.92,481.05 522.4,477.22 521.86,473.33 521.3,469.39 520.71,465.39 520.09,461.34 519.45,457.23 518.78,453.06 518.08,448.83 517.34,444.54 516.57,440.18 515.77,435.76 514.92,431.26 514.03,426.7 513.1,422.06 512.13,417.34 511.1,412.55 510.02,407.68 508.88,402.72 507.68,397.68 506.42,392.54 505.08,387.31 503.68,381.99 502.19,376.57 500.62,371.04 498.96,365.4 497.79,361.58"/>
<polyline points="571.64,708.75 571.66,707.02 571.68,705.27 571.7,703.51 571.72,701.75 571.73,699.97 571.75,698.18 571.77,696.38 571.79,694.57 571.81,692.74 571.83,690.91 571.85,689.06 571.87,687.2 571.89,685.33 571.91,683.45 571.93,681.56 571.95,679.65 571.97,677.73 571.99,675.8 572.01,673.85 572.03,671.89 572.05,669.92 572.07,667.93 572.09,665.93 572.12,663.92 572.14,661.89 572.16,659.85 572.18,657.79 572.2,655.72 572.22,653.63 572.25,651.53 572.27,649.41 572.29,647.28 572.31,645.13 572.33,642.96 572.36,640.78 572.38,638.58 572.4,636.37 572.42,634.13 572.44,631.88 572.46,629.62 572.48,627.33 572.5,625.03 572.52,622.71 572.54,620.36 572.56,618 572.58,615.62 572.6,613.22 572.62,610.8 572.64,608.36 572.66,605.9 572.67,603.42 572.69,600.92 572.7,598.39 572.72,595.84 572.73,593.27 572.75,590.68 572.76,588.06 572.77,585.42 572.78,582.75 572.79,580.06 572.8,577.35 572.81,574.61 572.82,571.84 572.82,569.04 572.82,566.22 572.83,563.37 572.83,560.49 572.82,557.58 572.82,554.65 572.82,551.68 572.81,548.68 572.8,545.65 572.79,542.59 572.77,539.49 572.75,536.36 572.73,533.2 572.71,530 572.68,526.77 572.65,523.5 572.62,520.19 572.58,516.84 572.54,513.46 572.49,510.03 572.44,506.57 572.39,503.06 572.33,499.5 572.26,495.91 572.19,492.26 572.11,488.58 572.02,484.84 571.93,481.05 571.83,477.22 571.72,473.33 571.6,469.39 571.47,465.39 571.34,461.34 571.19,457.23 571.03,453.06 570.86,448.83 570.68,444.54 570.48,440.18 570.27,435.76 570.04,431.26 569.79,426.7 569.53,422.06 569.24,417.34 568.94,412.55 568.61,407.68 568.26,402.72 567.88,397.68 567.48,392.54 567.04,387.31 566.57,381.99 566.06,376.57 565.52,371.04 564.93,365.4 564.52,361.58"/>
<polyline points="605.43,708.75 605.5,707.02 605.57,705.27 605.64,703.51 605.71,701.75 605.78,699.97 605.86,698.18 605.93,696.38 606.01,694.57 606.08,692.74 606.16,690.91 606.24,689.06 606.32,687.2 606.4,685.33 606.48,683.45 606.56,681.56 606.65,679.65 606.73,677.73 606.82,675.8 606.9,673.85 606.99,671.89 607.08,669.92 607.17,667.93 607.26,665.93 607.35,663.92 607.44,661.89 607.54,659.85 607.63,657.79 607.73,655.72 607.83,653.63 607.93,651.53 608.03,649.41 608.13,647.28 608.23,645.13 608.33,642.96 608.44,640.78 608.54,638.58 608.65,636.37 608.76,634.13 608.87,631.88 608.98,629.62 609.09,627.33 609.21,625.03 609.32,622.71 609.44,620.36 609.55,618 609.67,615.62 609.79,613.22 609.92,610.8 610.04,608.36 610.16,605.9 610.29,603.42 610.42,600.92 610.55,598.39 610.68,595.84 610.81,593.27 610.94,590.68 611.07,588.06 611.21,585.42 611.35,582.75 611.49,580.06 611.63,577.35 611.77,574.61 611.91,571.84 612.06,569.04 612.21,566.22 612.35,563.37 612.5,560.49 612.65,557.58 612.81,554.65 612.96,551.68 613.12,548.68 613.27,545.65 613.43,542.59 613.59,539.49 613.75,536.36 613.92,533.2 614.08,530 614.25,526.77 614.42,523.5 614.58,520.19 614.75,516.84 614.93,513.46 615.1,510.03 615.27,506.57 615.45,503.06 615.62,499.5 615.8,495.91 615.98,492.26 616.16,488.58 616.34,484.84 616.52,481.05 616.7,477.22 616.88,473.33 617.07,469.39 617.25,465.39 617.43,461.34 617.61,457.23 617.8,453.06 617.98,448.83 618.16,444.54 618.34,440.18 618.52,435.76 618.7,431.26 618.88,426.7 619.05,422.06 619.22,417.34 619.39,412.55 619.56,407.68 619.72,402.72 619.88,397.68 620.03,392.54 620.18,387.31 620.32,381.99 620.45,376.57 620.57,371.04 620.69,365.4 620.76,361.58"/>
<polyline points="639.21,708.75 639.32,707.02 639.43,705.27 639.54,703.51 639.65,701.75 639.76,699.97 639.87,698.18 639.99,696.38 640.1,694.57 640.22,692.74 640.34,690.91 640.46,689.06 640.58,687.2 640.7,685.33 640.83,683.45 640.95,681.56 641.08,679.65 641.21,677.73 641.34,675.8 641.47,673.85 641.61,671.89 641.75,669.92 641.88,667.93 642.02,665.93 642.16,663.92 642.31,661.89 642.45,659.85 642.6,657.79 642.75,655.72 642.9,653.63 643.05,651.53 643.21,649.41 643.36,647.28 643.52,645.13 643.68,642.96 643.85,640.78 644.01,638.58 644.18,636.37 644.35,634.13 644.52,631.88 644.69,629.62 644.87,627.33 645.05,625.03 645.23,622.71 645.41,620.36 645.6,618 645.79,615.62 645.98,613.22 646.17,610.8 646.37,608.36 646.57,605.9 646.77,603.42 646.97,600.92 647.18,598.39 647.39,595.84 647.6,593.27 647.82,590.68 648.03,588.06 648.26,585.42 648.48,582.75 648.71,580.06 648.94,577.35 649.17,574.61 649.41,571.84 649.65,569.04 649.9,566.22 650.14,563.37 650.4,560.49 650.65,557.58 650.91,554.65 651.17,551.68 651.44,548.68 651.71,545.65 651.98,542.59 652.26,539.49 652.54,536.36 652.83,533.2 653.12,530 653.41,526.77 653.71,523.5 654.02,520.19 654.33,516.84 654.64,513.46 654.96,510.03 655.28,506.57 655.61,503.06 655.94,499.5 656.28,495.91 656.62,492.26 656.97,488.58 657.33,484.84 657.69,481.05 658.05,477.22 658.42,473.33 658.8,469.39 659.18,465.39 659.57,461.34 659.97,457.23 660.37,453.06 660.78,448.83 661.2,444.54 661.62,440.18 662.05,435.76 662.48,431.26 662.93,426.7 663.38,422.06 663.83,417.34 664.3,412.55 664.77,407.68 665.25,402.72 665.74,397.68 666.24,392.54 666.74,387.31 667.25,381.99 667.78,376.57 668.3,371.04 668.84,365.4 669.2,361.58"/>
</g>
<g stroke="#a020f0" stroke-width="1.1" stroke-dasharray="3,2">
<polyline points="341.61,444.54 311.28,508.88 286.78,561.45 266.26,605.9 248.65,644.41 233.23,678.37 219.54,708.75 212.01,725.55"/>
<polyline points="394.21,444.54 365.1,508.88 341.63,561.45 322.01,605.9 305.19,644.41 290.48,678.37 277.44,708.75 270.27,725.55"/>
<polyline points="426.78,444.54 398.45,508.88 375.63,561.45 356.59,605.9 340.27,644.41 326.02,678.37 313.39,708.75 306.45,725.55"/>
<polyline points="450.75,444.54 423.01,508.88 400.68,561.45 382.06,605.9 366.12,644.41 352.22,678.37 339.9,708.75 333.14,725.55"/>
<polyline points="485.83,444.54 458.95,508.88 437.37,561.45 419.38,605.9 404.01,644.41 390.62,678.37 378.77,708.75 372.27,725.55"/>
<polyline points="511.69,444.54 485.46,508.88 464.43,561.45 446.93,605.9 431.98,644.41 418.97,678.37 407.47,708.75 401.17,725.55"/>
<polyline points="532.32,444.54 506.63,508.88 486.04,561.45 468.93,605.9 454.33,644.41 441.63,678.37 430.42,708.75 424.28,725.55"/>
<polyline points="571.19,444.54 546.51,508.88 526.78,561.45 510.42,605.9 496.49,644.41 484.39,678.37 473.72,708.75 467.89,725.55"/>
<polyline points="599.9,444.54 575.98,508.88 556.9,561.45 541.11,605.9 527.68,644.41 516.03,678.37 505.78,708.75 500.18,725.55"/>
<polyline points="622.85,444.54 599.55,508.88 581,561.45 565.66,605.9 552.64,644.41 541.36,678.37 531.45,708.75 526.03,725.55"/>
<polyline points="642.05,444.54 619.29,508.88 601.18,561.45 586.23,605.9 573.56,644.41 562.6,678.37 552.97,708.75 547.71,725.55"/>
<polyline points="658.63,444.54 636.32,508.88 618.61,561.45 604,605.9 591.63,644.41 580.94,678.37 571.55,708.75 566.44,725.55"/>
<polyline points="673.24,444.54 651.34,508.88 633.97,561.45 619.67,605.9 607.56,644.41 597.12,678.37 587.96,708.75 582.97,725.55"/>
</g>
</g>
<line x1="324.84" y1="722.9" x2="605" y2="338.23" stroke="#2244ff" stroke-width="3" clip-path="url(#cp)"/>
<g stroke="#000" stroke-width="1.6">
<line x1="60" y1="44.8" x2="605" y2="44.8"/>
<line x1="60" y1="244.67" x2="605" y2="244.67"/>
<line x1="60" y1="361.58" x2="605" y2="361.58"/>
<line x1="60" y1="444.54" x2="605" y2="444.54"/>
<line x1="60" y1="508.88" x2="605" y2="508.88"/>
<line x1="60" y1="561.45" x2="605" y2="561.45"/>
<line x1="60" y1="605.9" x2="605" y2="605.9"/>
<line x1="60" y1="644.41" x2="605" y2="644.41"/>
<line x1="60" y1="678.37" x2="605" y2="678.37"/>
<line x1="60" y1="708.75" x2="605" y2="708.75"/>
</g>
<rect x="65" y="44.9" width="540" height="678" fill="none" stroke="#000" stroke-width="2"/>
<polyline points="457.5,44.6 437.1,74.4 419.4,97.3 411.7,106.3 403.8,125.4 397,136.3 399,164 380.4,199.1 372.6,216 347.3,263 329.8,295.5 313.4,324.2 301.4,340 286.8,359.9 272.8,377.5 261.5,403.2 268.1,431.3 275.6,450 278.6,475.8 279.3,494.6 281,512.8 287.3,532.8 290.1,541.9 293.7,560.1 297.4,576.5 301,605.7 304,616.5 316.7,642.3 325,653.8 337.5,666.3 354.2,682.9 375,699.6 392.9,714.8" fill="none" stroke="#ff3a3a" stroke-width="4.2" stroke-linejoin="round" stroke-linecap="round"/>
<polyline points="155.9,323.7 105.4,350.9 115.4,364.2 126.4,378.1 112.1,404 120.9,429.4 107.6,458.2 97.2,473.6 100.9,495.2 113.4,512.7 115.7,532.7 86.4,550.2 123.9,560.8 142.6,566.6 145,579.5 150.9,593.6 179.5,607.5 177.6,620.5 220.8,629.8 286.8,640.4 274.1,649.3 286.8,657.7 300.4,663.6 305.4,669.6 293.6,708.5 294.4,714.4 300.4,715.3" fill="none" stroke="#00dd00" stroke-width="4.2" stroke-linejoin="round" stroke-linecap="round"/>
<polyline points="393.09,715.48 391.45,714.06 389.81,712.65 388.16,711.22 386.51,709.79 384.85,708.35 383.19,706.9 381.52,705.44 379.85,703.98 378.18,702.51 376.5,701.04 374.81,699.55 373.12,698.06 371.43,696.56 369.73,695.05 368.03,693.53 366.32,692.01 364.61,690.48 362.89,688.94 361.17,687.39 359.44,685.83 357.71,684.27 355.97,682.69 354.23,681.11 352.48,679.52 350.73,677.92 348.97,676.31 347.21,674.69 345.44,673.07 343.67,671.43 341.89,669.78 340.11,668.13 338.32,666.47 336.53,664.79 334.73,663.11 332.92,661.41 331.11,659.71 329.3,657.99 327.47,656.27 325.65,654.54 325.43,654.47 325.05,653.77 323.89,651.67 322.72,649.55 321.53,647.41 320.32,645.27 319.09,643.1 317.85,640.92 316.58,638.72 315.29,636.5 313.98,634.27 312.66,632.02 311.31,629.75 309.94,627.47 308.54,625.16 307.13,622.84 305.69,620.5 304.23,618.14 302.75,615.76 301.24,613.36 299.71,610.94 298.15,608.5 296.57,606.04 294.96,603.55 293.33,601.05 291.67,598.52 289.99,595.98 288.28,593.4 286.54,590.81 284.78,588.19 282.98,585.55 281.16,582.88 279.31,580.19 277.43,577.48 275.52,574.74 273.59,571.97 271.62,569.17 269.62,566.35 267.6,563.5 265.54,560.62 263.45,557.71 261.33,554.77 259.18,551.8 257,548.81 254.78,545.78 252.54,542.71 250.26,539.62 247.95,536.49 245.6,533.32 243.23,530.13 240.82,526.89 238.38,523.62 235.91,520.31 233.4,516.96 230.86,513.58 228.29,510.15 225.69,506.68 223.05,503.17 220.38,499.62 217.68,496.02 214.94,492.38 212.18,488.69 209.37,484.95 206.54,481.17 203.68,477.33 200.78,473.44 197.85,469.5 194.88,465.5 191.89,461.45 188.86,457.34 185.8,453.17 182.71,448.94 179.59,444.64 176.43,440.29 173.25,435.86 170.03,431.36 166.78,426.8 163.5,422.16 160.18,417.44 156.84,412.65 153.46,407.77 150.06,402.82 146.62,397.77 143.15,392.64 139.65,387.41 136.11,382.08 132.55,376.66 128.95,371.13 125.32,365.49 121.66,359.74 117.96,353.87 114.24,347.89 110.48,341.77 106.68,335.52 102.85,329.14 98.99,322.6 95.1,315.92 91.17,309.08 87.2,302.07 83.2,294.89 79.17,287.53 75.1,279.97 70.99,272.21 66.85,264.23 62.66,256.03 58.45,247.58 54.19,238.88 49.9,229.91 45.57,220.66 41.2,211.09 36.79,201.2 32.35,190.96 27.87,180.34 23.35,169.31" fill="none" stroke="#00cccc" stroke-width="2" stroke-linejoin="round" clip-path="url(#cp)"/>
<text x="105.5" y="16.2" font-size="19.5" fill="#000" font-weight="200" stroke="#000" stroke-width="0.45" word-spacing="5.5" textLength="534.5" lengthAdjust="spacingAndGlyphs">2026041918 NAM3KM BUFR Sounding for KDCA</text>
<text x="160.7" y="38.3" font-size="19.5" fill="#000" font-weight="200" stroke="#000" stroke-width="0.45" word-spacing="5.5" textLength="423" lengthAdjust="spacingAndGlyphs">30h forecast valid 2026042100 (Tue)</text>
<text x="28.5" y="50.7" font-size="16.2" fill="#000" font-weight="200" stroke="#000" stroke-width="0.3" textLength="26.7" lengthAdjust="spacingAndGlyphs">100</text>
<text x="28.5" y="250.57" font-size="16.2" fill="#000" font-weight="200" stroke="#000" stroke-width="0.3" textLength="26.7" lengthAdjust="spacingAndGlyphs">200</text>
<text x="28.5" y="367.48" font-size="16.2" fill="#000" font-weight="200" stroke="#000" stroke-width="0.3" textLength="26.7" lengthAdjust="spacingAndGlyphs">300</text>
<text x="28.5" y="450.44" font-size="16.2" fill="#000" font-weight="200" stroke="#000" stroke-width="0.3" textLength="26.7" lengthAdjust="spacingAndGlyphs">400</text>
<text x="28.5" y="514.78" font-size="16.2" fill="#000" font-weight="200" stroke="#000" stroke-width="0.3" textLength="26.7" lengthAdjust="spacingAndGlyphs">500</text>
<text x="28.5" y="567.35" font-size="16.2" fill="#000" font-weight="200" stroke="#000" stroke-width="0.3" textLength="26.7" lengthAdjust="spacingAndGlyphs">600</text>
<text x="28.5" y="611.8" font-size="16.2" fill="#000" font-weight="200" stroke="#000" stroke-width="0.3" textLength="26.7" lengthAdjust="spacingAndGlyphs">700</text>
<text x="28.5" y="650.31" font-size="16.2" fill="#000" font-weight="200" stroke="#000" stroke-width="0.3" textLength="26.7" lengthAdjust="spacingAndGlyphs">800</text>
<text x="28.5" y="684.27" font-size="16.2" fill="#000" font-weight="200" stroke="#000" stroke-width="0.3" textLength="26.7" lengthAdjust="spacingAndGlyphs">900</text>
<text x="19.4" y="714.65" font-size="16.2" fill="#000" font-weight="200" stroke="#000" stroke-width="0.3" textLength="35.8" lengthAdjust="spacingAndGlyphs">1000</text>
<text x="0" y="0" font-size="16" font-weight="200" stroke="#000" stroke-width="0.45" word-spacing="4" transform="translate(20.8,448) rotate(-90)" textLength="128" lengthAdjust="spacingAndGlyphs">Pressure (mb)</text>
<text x="97.2" y="743" font-size="17.5" fill="#3355ff" font-weight="200" stroke="#3355ff" stroke-width="0.45" textLength="42" lengthAdjust="spacingAndGlyphs">−30</text>
<text x="164.9" y="743" font-size="17.5" fill="#3355ff" font-weight="200" stroke="#3355ff" stroke-width="0.45" textLength="41.6" lengthAdjust="spacingAndGlyphs">−20</text>
<text x="232.5" y="743" font-size="17.5" fill="#3355ff" font-weight="200" stroke="#3355ff" stroke-width="0.45" textLength="41.1" lengthAdjust="spacingAndGlyphs">−10</text>
<text x="315" y="743" font-size="17.5" fill="#3355ff" font-weight="200" stroke="#3355ff" stroke-width="0.45" textLength="11.1" lengthAdjust="spacingAndGlyphs">0</text>
<text x="376.6" y="743" font-size="17.5" fill="#3355ff" font-weight="200" stroke="#3355ff" stroke-width="0.45" textLength="23.2" lengthAdjust="spacingAndGlyphs">10</text>
<text x="443.1" y="743" font-size="17.5" fill="#3355ff" font-weight="200" stroke="#3355ff" stroke-width="0.45" textLength="24.2" lengthAdjust="spacingAndGlyphs">20</text>
<text x="510.7" y="743" font-size="17.5" fill="#3355ff" font-weight="200" stroke="#3355ff" stroke-width="0.45" textLength="24.3" lengthAdjust="spacingAndGlyphs">30</text>
<text x="578" y="743" font-size="17.5" fill="#3355ff" font-weight="200" stroke="#3355ff" stroke-width="0.45" textLength="24" lengthAdjust="spacingAndGlyphs">40</text>
<text x="247.1" y="760.3" font-size="16.3" fill="#2244ee" font-weight="400" word-spacing="4" textLength="157.9" lengthAdjust="spacingAndGlyphs">Temperature (°C)</text>
<text x="341.7" y="439.6" font-size="11.5" fill="#a020d0" font-weight="200" stroke="#a020d0" stroke-width="0.45" textLength="3.7" lengthAdjust="spacingAndGlyphs">1</text>
<text x="394.5" y="439.6" font-size="11.5" fill="#a020d0" font-weight="200" stroke="#a020d0" stroke-width="0.45" textLength="6.2" lengthAdjust="spacingAndGlyphs">2</text>
<text x="426.7" y="439.6" font-size="11.5" fill="#a020d0" font-weight="200" stroke="#a020d0" stroke-width="0.45" textLength="6.6" lengthAdjust="spacingAndGlyphs">3</text>
<text x="450.4" y="439.6" font-size="11.5" fill="#a020d0" font-weight="200" stroke="#a020d0" stroke-width="0.45" textLength="6.3" lengthAdjust="spacingAndGlyphs">4</text>
<text x="486.6" y="439.6" font-size="11.5" fill="#a020d0" font-weight="200" stroke="#a020d0" stroke-width="0.45" textLength="6.3" lengthAdjust="spacingAndGlyphs">6</text>
<text x="511.9" y="439.6" font-size="11.5" fill="#a020d0" font-weight="200" stroke="#a020d0" stroke-width="0.45" textLength="7.4" lengthAdjust="spacingAndGlyphs">8</text>
<text x="534.5" y="439.6" font-size="11.5" fill="#a020d0" font-weight="200" stroke="#a020d0" stroke-width="0.45" textLength="13.2" lengthAdjust="spacingAndGlyphs">10</text>
<text x="573" y="439.6" font-size="11.5" fill="#a020d0" font-weight="200" stroke="#a020d0" stroke-width="0.45" textLength="13.6" lengthAdjust="spacingAndGlyphs">15</text>
<text x="602.7" y="439.6" font-size="11.5" fill="#a020d0" font-weight="200" stroke="#a020d0" stroke-width="0.45" textLength="13.2" lengthAdjust="spacingAndGlyphs">20</text>
<text x="612.9" y="502" font-size="11.5" fill="#a020d0" font-weight="200" stroke="#a020d0" stroke-width="0.45" textLength="15.2" lengthAdjust="spacingAndGlyphs">25</text>
<text x="612.9" y="561.7" font-size="11.5" fill="#a020d0" font-weight="200" stroke="#a020d0" stroke-width="0.45" textLength="15.2" lengthAdjust="spacingAndGlyphs">30</text>
<text x="612.9" y="615.8" font-size="11.5" fill="#a020d0" font-weight="200" stroke="#a020d0" stroke-width="0.45" textLength="15.2" lengthAdjust="spacingAndGlyphs">35</text>
<text x="612.9" y="665.8" font-size="11.5" fill="#a020d0" font-weight="200" stroke="#a020d0" stroke-width="0.45" textLength="15.2" lengthAdjust="spacingAndGlyphs">40</text>
<text x="0" y="0" font-size="16.5" fill="#a020d0" stroke="#a020d0" stroke-width="0.3" word-spacing="4" transform="translate(648.6,583) rotate(-90)" textLength="174.5" lengthAdjust="spacingAndGlyphs">Mixing Ratio (g/kg)</text>
<line x1="604.5" y1="654.6" x2="615" y2="654.6" stroke="#ff3a3a" stroke-width="1.3"/>
<text x="619.5" y="659" font-size="12.5" fill="#ff3a3a" font-weight="200" stroke="#ff3a3a" stroke-width="0.45" textLength="24.2" lengthAdjust="spacingAndGlyphs">LCL</text>
<text x="557.2" y="760.6" font-size="15.5" font-weight="200" fill="#ff4040" stroke="#ff4040" stroke-width="0.4" textLength="186.7" lengthAdjust="spacing">coolwx.com/modelts</text>
<line x1="698.3" y1="44.7" x2="698.3" y2="722.6" stroke="#444" stroke-width="1.5"/>
<polygon points="680,664 686,664 696.8,676 696.8,690 699.5,694 699.5,716 697.5,717.5 680,688.5" fill="#00eeff"/>
<line x1="682" y1="656" x2="697" y2="690" stroke="#00f8d0" stroke-width="3.5"/>
<g stroke="#80ff00" stroke-width="1.5" stroke-linecap="round"><line x1="698" y1="75.7" x2="665.1" y2="65"/><polygon points="665.1,65 669.85,66.55 670.25,55.63" fill="#80ff00" stroke="none"/><rect x="696.2" y="73.9" width="3.6" height="3.6" fill="#80ff00" stroke="none"/></g>
<g stroke="#ffff00" stroke-width="1.5" stroke-linecap="round"><line x1="698" y1="106.8" x2="664.6" y2="98.6"/><polygon points="664.6,98.6 669.46,99.79 669.05,88.88" fill="#ffff00" stroke="none"/><line x1="672.56" y1="100.56" x2="673.97" y2="94.83"/><rect x="696.2" y="105" width="3.6" height="3.6" fill="#ffff00" stroke="none"/></g>
<g stroke="#80ff00" stroke-width="1.5" stroke-linecap="round"><line x1="698" y1="136.4" x2="663.5" y2="132.3"/><polygon points="663.5,132.3 668.47,132.89 666.73,122.11" fill="#80ff00" stroke="none"/><rect x="696.2" y="134.6" width="3.6" height="3.6" fill="#80ff00" stroke="none"/></g>
<g stroke="#77ff00" stroke-width="1.5" stroke-linecap="round"><line x1="698" y1="163.9" x2="665.8" y2="156.9"/><line x1="665.8" y1="156.9" x2="668.31" y2="145.37"/><line x1="670.2" y1="157.86" x2="672.7" y2="146.33"/><line x1="674.59" y1="158.81" x2="677.1" y2="147.28"/><line x1="678.99" y1="159.77" x2="681.5" y2="148.24"/><line x1="683.39" y1="160.72" x2="684.64" y2="154.96"/><rect x="696.2" y="162.1" width="3.6" height="3.6" fill="#77ff00" stroke="none"/></g>
<g stroke="#70ff00" stroke-width="1.5" stroke-linecap="round"><line x1="698" y1="190.3" x2="667.6" y2="179.1"/><line x1="667.6" y1="179.1" x2="671.68" y2="168.03"/><line x1="671.82" y1="180.66" x2="675.9" y2="169.58"/><line x1="676.05" y1="182.21" x2="680.12" y2="171.14"/><line x1="680.27" y1="183.77" x2="684.35" y2="172.69"/><line x1="684.49" y1="185.32" x2="686.53" y2="179.79"/><rect x="696.2" y="188.5" width="3.6" height="3.6" fill="#70ff00" stroke="none"/></g>
<g stroke="#66ee00" stroke-width="1.5" stroke-linecap="round"><line x1="698" y1="216.6" x2="670" y2="199.4"/><line x1="670" y1="199.4" x2="676.18" y2="189.35"/><line x1="673.83" y1="201.76" x2="680.01" y2="191.7"/><line x1="677.67" y1="204.11" x2="683.85" y2="194.06"/><line x1="681.5" y1="206.47" x2="687.68" y2="196.41"/><line x1="685.34" y1="208.82" x2="688.43" y2="203.79"/><rect x="696.2" y="214.8" width="3.6" height="3.6" fill="#66ee00" stroke="none"/></g>
<g stroke="#ffff00" stroke-width="1.5" stroke-linecap="round"><line x1="698" y1="243.1" x2="668.2" y2="224.4"/><polygon points="668.2,224.4 672.44,227.06 675.48,216.57" fill="#ffff00" stroke="none"/><line x1="675.15" y1="228.76" x2="678.28" y2="223.76"/><rect x="696.2" y="241.3" width="3.6" height="3.6" fill="#ffff00" stroke="none"/></g>
<g stroke="#ccff00" stroke-width="1.5" stroke-linecap="round"><line x1="698" y1="270" x2="668.4" y2="252.5"/><polygon points="668.4,252.5 672.7,255.04 675.47,244.48" fill="#ccff00" stroke="none"/><line x1="675.46" y1="256.67" x2="678.46" y2="251.59"/><rect x="696.2" y="268.2" width="3.6" height="3.6" fill="#ccff00" stroke="none"/></g>
<g stroke="#aaff00" stroke-width="1.5" stroke-linecap="round"><line x1="698" y1="297" x2="671.9" y2="275.2"/><polygon points="671.9,275.2 675.74,278.41 680.17,268.42" fill="#aaff00" stroke="none"/><rect x="696.2" y="295.2" width="3.6" height="3.6" fill="#aaff00" stroke="none"/></g>
<g stroke="#ffff00" stroke-width="1.5" stroke-linecap="round"><line x1="698" y1="323.9" x2="675.6" y2="298.9"/><polygon points="675.6,298.9 678.94,302.62 684.75,293.38" fill="#ffff00" stroke="none"/><line x1="681.07" y1="305.01" x2="689.86" y2="297.13"/><line x1="684.07" y1="308.36" x2="688.47" y2="304.42"/><rect x="696.2" y="322.1" width="3.6" height="3.6" fill="#ffff00" stroke="none"/></g>
<g stroke="#ffdd00" stroke-width="1.5" stroke-linecap="round"><line x1="698" y1="350.9" x2="674.6" y2="326.5"/><polygon points="674.6,326.5 678.06,330.11 683.56,320.68" fill="#ffdd00" stroke="none"/><line x1="680.28" y1="332.42" x2="688.79" y2="324.25"/><line x1="683.39" y1="335.67" x2="691.91" y2="327.5"/><rect x="696.2" y="349.1" width="3.6" height="3.6" fill="#ffdd00" stroke="none"/></g>
<g stroke="#ff9900" stroke-width="1.5" stroke-linecap="round"><line x1="698" y1="378.5" x2="679.8" y2="350.4"/><polygon points="679.8,350.4 682.52,354.6 689.7,346.37" fill="#ff9900" stroke="none"/><line x1="684.26" y1="357.28" x2="694.16" y2="350.87"/><line x1="686.7" y1="361.06" x2="696.61" y2="354.64"/><line x1="689.15" y1="364.84" x2="694.1" y2="361.63"/><rect x="696.2" y="376.7" width="3.6" height="3.6" fill="#ff9900" stroke="none"/></g>
<g stroke="#ff8800" stroke-width="1.5" stroke-linecap="round"><line x1="698" y1="403.7" x2="682.9" y2="375"/><polygon points="682.9,375 685.23,379.42 693.12,371.88" fill="#ff8800" stroke="none"/><line x1="686.72" y1="382.26" x2="697.16" y2="376.76"/><line x1="688.81" y1="386.24" x2="699.26" y2="380.75"/><line x1="690.91" y1="390.22" x2="701.35" y2="384.73"/><rect x="696.2" y="401.9" width="3.6" height="3.6" fill="#ff8800" stroke="none"/></g>
<g stroke="#ff6a00" stroke-width="1.5" stroke-linecap="round"><line x1="698" y1="428.9" x2="684.6" y2="399"/><polygon points="684.6,399 686.64,403.56 695,396.53" fill="#ff6a00" stroke="none"/><line x1="687.95" y1="406.48" x2="698.72" y2="401.66"/><line x1="689.79" y1="410.59" x2="700.56" y2="405.76"/><line x1="691.63" y1="414.7" x2="702.4" y2="409.87"/><line x1="693.47" y1="418.8" x2="698.86" y2="416.39"/><rect x="696.2" y="427.1" width="3.6" height="3.6" fill="#ff6a00" stroke="none"/></g>
<g stroke="#ff8800" stroke-width="1.5" stroke-linecap="round"><line x1="698" y1="452.3" x2="682.9" y2="422.4"/><polygon points="682.9,422.4 685.15,426.86 693.17,419.45" fill="#ff8800" stroke="none"/><line x1="686.6" y1="429.72" x2="697.13" y2="424.4"/><line x1="688.63" y1="433.74" x2="699.16" y2="428.42"/><line x1="690.65" y1="437.75" x2="701.19" y2="432.43"/><line x1="692.68" y1="441.77" x2="697.95" y2="439.11"/><rect x="696.2" y="450.5" width="3.6" height="3.6" fill="#ff8800" stroke="none"/></g>
<g stroke="#ffaa00" stroke-width="1.5" stroke-linecap="round"><line x1="698" y1="474.6" x2="681.1" y2="445.3"/><polygon points="681.1,445.3 683.6,449.63 691.19,441.79" fill="#ffaa00" stroke="none"/><line x1="685.2" y1="452.4" x2="695.42" y2="446.51"/><line x1="687.45" y1="456.3" x2="697.67" y2="450.41"/><line x1="689.69" y1="460.2" x2="694.8" y2="457.25"/><rect x="696.2" y="472.8" width="3.6" height="3.6" fill="#ffaa00" stroke="none"/></g>
<g stroke="#ffff00" stroke-width="1.5" stroke-linecap="round"><line x1="698" y1="495.1" x2="678.75" y2="467.5"/><polygon points="678.75,467.5 681.61,471.6 688.51,463.13" fill="#ffff00" stroke="none"/><line x1="683.44" y1="474.23" x2="693.12" y2="467.48"/><rect x="696.2" y="493.3" width="3.6" height="3.6" fill="#ffff00" stroke="none"/></g>
<g stroke="#99ff00" stroke-width="1.5" stroke-linecap="round"><line x1="698" y1="514.7" x2="677" y2="488.6"/><polygon points="677,488.6 680.13,492.5 686.43,483.58" fill="#99ff00" stroke="none"/><rect x="696.2" y="512.9" width="3.6" height="3.6" fill="#99ff00" stroke="none"/></g>
<g stroke="#55ff00" stroke-width="1.5" stroke-linecap="round"><line x1="698" y1="533.3" x2="676.1" y2="509.1"/><line x1="676.1" y1="509.1" x2="684.85" y2="501.18"/><line x1="679.12" y1="512.44" x2="687.87" y2="504.52"/><line x1="682.14" y1="515.77" x2="690.89" y2="507.86"/><line x1="685.16" y1="519.11" x2="693.91" y2="511.19"/><line x1="688.18" y1="522.45" x2="692.55" y2="518.49"/><rect x="696.2" y="531.5" width="3.6" height="3.6" fill="#55ff00" stroke="none"/></g>
<g stroke="#22ff33" stroke-width="1.5" stroke-linecap="round"><line x1="698" y1="550.3" x2="675.3" y2="526.6"/><line x1="675.3" y1="526.6" x2="683.82" y2="518.44"/><line x1="678.41" y1="529.85" x2="686.93" y2="521.69"/><line x1="681.53" y1="533.1" x2="690.05" y2="524.94"/><line x1="684.64" y1="536.35" x2="693.16" y2="528.19"/><line x1="687.75" y1="539.6" x2="692.01" y2="535.52"/><rect x="696.2" y="548.5" width="3.6" height="3.6" fill="#22ff33" stroke="none"/></g>
<g stroke="#00ff66" stroke-width="1.5" stroke-linecap="round"><line x1="698" y1="566.5" x2="672.9" y2="545"/><line x1="672.9" y1="545" x2="680.58" y2="536.04"/><line x1="676.32" y1="547.93" x2="683.99" y2="538.97"/><line x1="679.74" y1="550.85" x2="687.41" y2="541.89"/><line x1="683.15" y1="553.78" x2="690.83" y2="544.82"/><rect x="696.2" y="564.7" width="3.6" height="3.6" fill="#00ff66" stroke="none"/></g>
<g stroke="#00ff88" stroke-width="1.5" stroke-linecap="round"><line x1="698" y1="581.3" x2="672.2" y2="561"/><line x1="672.2" y1="561" x2="679.5" y2="551.73"/><line x1="675.74" y1="563.78" x2="683.03" y2="554.51"/><line x1="679.27" y1="566.57" x2="686.57" y2="557.29"/><line x1="682.81" y1="569.35" x2="686.46" y2="564.71"/><rect x="696.2" y="579.5" width="3.6" height="3.6" fill="#00ff88" stroke="none"/></g>
<g stroke="#00ff99" stroke-width="1.5" stroke-linecap="round"><line x1="698" y1="595.4" x2="672.2" y2="575.5"/><line x1="672.2" y1="575.5" x2="679.41" y2="566.16"/><line x1="675.76" y1="578.25" x2="682.97" y2="568.9"/><line x1="679.33" y1="581" x2="682.93" y2="576.32"/><rect x="696.2" y="593.6" width="3.6" height="3.6" fill="#00ff99" stroke="none"/></g>
<g stroke="#00ffaa" stroke-width="1.5" stroke-linecap="round"><line x1="698" y1="608.7" x2="672" y2="588.3"/><line x1="672" y1="588.3" x2="679.28" y2="579.02"/><line x1="675.54" y1="591.08" x2="682.82" y2="581.79"/><line x1="679.08" y1="593.86" x2="686.36" y2="584.57"/><rect x="696.2" y="606.9" width="3.6" height="3.6" fill="#00ffaa" stroke="none"/></g>
<g stroke="#00ffbb" stroke-width="1.5" stroke-linecap="round"><line x1="698" y1="620.8" x2="671.4" y2="601.3"/><line x1="671.4" y1="601.3" x2="678.38" y2="591.78"/><line x1="675.03" y1="603.96" x2="682.01" y2="594.44"/><line x1="678.66" y1="606.62" x2="685.64" y2="597.1"/><rect x="696.2" y="619" width="3.6" height="3.6" fill="#00ffbb" stroke="none"/></g>
<g stroke="#00ffcc" stroke-width="1.5" stroke-linecap="round"><line x1="698" y1="631.3" x2="670.2" y2="613.8"/><line x1="670.2" y1="613.8" x2="676.49" y2="603.81"/><line x1="674.01" y1="616.2" x2="680.29" y2="606.21"/><line x1="677.82" y1="618.59" x2="684.1" y2="608.61"/><rect x="696.2" y="629.5" width="3.6" height="3.6" fill="#00ffcc" stroke="none"/></g>
<g stroke="#00ffdd" stroke-width="1.5" stroke-linecap="round"><line x1="698" y1="641.5" x2="671.4" y2="622"/><line x1="671.4" y1="622" x2="678.38" y2="612.48"/><line x1="675.03" y1="624.66" x2="682.01" y2="615.14"/><line x1="678.66" y1="627.32" x2="682.15" y2="622.56"/><rect x="696.2" y="639.7" width="3.6" height="3.6" fill="#00ffdd" stroke="none"/></g>
<g stroke="#00f0f0" stroke-width="1.5" stroke-linecap="round"><line x1="698" y1="649.7" x2="672.2" y2="629.8"/><line x1="672.2" y1="629.8" x2="679.41" y2="620.46"/><line x1="675.76" y1="632.55" x2="682.97" y2="623.2"/><line x1="679.33" y1="635.3" x2="682.93" y2="630.62"/><rect x="696.2" y="647.9" width="3.6" height="3.6" fill="#00f0f0" stroke="none"/></g>
<g stroke="#00eeff" stroke-width="1.5" stroke-linecap="round"><line x1="698" y1="657.3" x2="676.55" y2="632.76"/><line x1="676.55" y1="632.76" x2="685.43" y2="624.99"/><line x1="679.51" y1="636.14" x2="688.39" y2="628.38"/><line x1="682.47" y1="639.53" x2="686.91" y2="635.65"/><rect x="696.2" y="655.5" width="3.6" height="3.6" fill="#00eeff" stroke="none"/></g>
<g stroke="#00eeff" stroke-width="1.5" stroke-linecap="round"><line x1="698" y1="664.4" x2="679.92" y2="637.28"/><line x1="679.92" y1="637.28" x2="689.73" y2="630.73"/><line x1="682.41" y1="641.02" x2="692.23" y2="634.47"/><line x1="684.91" y1="644.76" x2="689.82" y2="641.49"/><rect x="696.2" y="662.6" width="3.6" height="3.6" fill="#00eeff" stroke="none"/></g>
<g stroke="#00f5dd" stroke-width="1.5" stroke-linecap="round"><line x1="698" y1="670.2" x2="679.92" y2="643.08"/><line x1="679.92" y1="643.08" x2="689.73" y2="636.53"/><line x1="682.41" y1="646.82" x2="692.23" y2="640.27"/><line x1="684.91" y1="650.56" x2="689.82" y2="647.29"/><rect x="696.2" y="668.4" width="3.6" height="3.6" fill="#00f5dd" stroke="none"/></g>
<g stroke="#00f5dd" stroke-width="1.5" stroke-linecap="round"><line x1="698" y1="675.3" x2="679.92" y2="648.18"/><line x1="679.92" y1="648.18" x2="689.73" y2="641.63"/><line x1="682.41" y1="651.92" x2="692.23" y2="645.37"/><line x1="684.91" y1="655.66" x2="689.82" y2="652.39"/><rect x="696.2" y="673.5" width="3.6" height="3.6" fill="#00f5dd" stroke="none"/></g>
<g stroke="#00f5dd" stroke-width="1.5" stroke-linecap="round"><line x1="698" y1="679.8" x2="679.92" y2="652.68"/><line x1="679.92" y1="652.68" x2="689.73" y2="646.13"/><line x1="682.41" y1="656.42" x2="692.23" y2="649.87"/><line x1="684.91" y1="660.16" x2="689.82" y2="656.89"/><rect x="696.2" y="678" width="3.6" height="3.6" fill="#00f5dd" stroke="none"/></g>
<g stroke="#00f5dd" stroke-width="1.5" stroke-linecap="round"><line x1="698" y1="683.8" x2="679.92" y2="656.68"/><line x1="679.92" y1="656.68" x2="689.73" y2="650.13"/><line x1="682.41" y1="660.42" x2="692.23" y2="653.87"/><line x1="684.91" y1="664.16" x2="689.82" y2="660.89"/><rect x="696.2" y="682" width="3.6" height="3.6" fill="#00f5dd" stroke="none"/></g>
<g stroke="#00eeff" stroke-width="1.5" stroke-linecap="round"><line x1="698" y1="687.4" x2="679.92" y2="660.28"/><line x1="679.92" y1="660.28" x2="689.73" y2="653.73"/><line x1="682.41" y1="664.02" x2="692.23" y2="657.47"/><line x1="684.91" y1="667.76" x2="689.82" y2="664.49"/><rect x="696.2" y="685.6" width="3.6" height="3.6" fill="#00eeff" stroke="none"/></g>
<g stroke="#00eeff" stroke-width="1.5" stroke-linecap="round"><line x1="698" y1="690.8" x2="679.92" y2="663.68"/><line x1="679.92" y1="663.68" x2="689.73" y2="657.13"/><line x1="682.41" y1="667.42" x2="692.23" y2="660.87"/><rect x="696.2" y="689" width="3.6" height="3.6" fill="#00eeff" stroke="none"/></g>
<g stroke="#00eeff" stroke-width="1.5" stroke-linecap="round"><line x1="698" y1="694" x2="679.92" y2="666.88"/><line x1="679.92" y1="666.88" x2="689.73" y2="660.33"/><line x1="682.41" y1="670.62" x2="692.23" y2="664.07"/><rect x="696.2" y="692.2" width="3.6" height="3.6" fill="#00eeff" stroke="none"/></g>
<g stroke="#00eeff" stroke-width="1.5" stroke-linecap="round"><line x1="698" y1="697.1" x2="679.92" y2="669.98"/><line x1="679.92" y1="669.98" x2="689.73" y2="663.43"/><line x1="682.41" y1="673.72" x2="692.23" y2="667.17"/><rect x="696.2" y="695.3" width="3.6" height="3.6" fill="#00eeff" stroke="none"/></g>
<g stroke="#00eeff" stroke-width="1.5" stroke-linecap="round"><line x1="698" y1="700.1" x2="679.92" y2="672.98"/><line x1="679.92" y1="672.98" x2="689.73" y2="666.43"/><line x1="682.41" y1="676.72" x2="692.23" y2="670.17"/><rect x="696.2" y="698.3" width="3.6" height="3.6" fill="#00eeff" stroke="none"/></g>
<g stroke="#00eeff" stroke-width="1.5" stroke-linecap="round"><line x1="698" y1="703" x2="679.92" y2="675.88"/><line x1="679.92" y1="675.88" x2="689.73" y2="669.33"/><line x1="682.41" y1="679.62" x2="692.23" y2="673.07"/><rect x="696.2" y="701.2" width="3.6" height="3.6" fill="#00eeff" stroke="none"/></g>
<g stroke="#00eeff" stroke-width="1.5" stroke-linecap="round"><line x1="698" y1="705.9" x2="679.92" y2="678.78"/><line x1="679.92" y1="678.78" x2="689.73" y2="672.23"/><line x1="682.41" y1="682.52" x2="692.23" y2="675.97"/><rect x="696.2" y="704.1" width="3.6" height="3.6" fill="#00eeff" stroke="none"/></g>
<g stroke="#00eeff" stroke-width="1.5" stroke-linecap="round"><line x1="698" y1="708.8" x2="679.92" y2="681.68"/><line x1="679.92" y1="681.68" x2="689.73" y2="675.13"/><line x1="682.41" y1="685.42" x2="692.23" y2="678.87"/><rect x="696.2" y="707" width="3.6" height="3.6" fill="#00eeff" stroke="none"/></g>
<g stroke="#00eeff" stroke-width="1.5" stroke-linecap="round"><line x1="698" y1="711.8" x2="679.92" y2="684.68"/><line x1="679.92" y1="684.68" x2="689.73" y2="678.13"/><line x1="682.41" y1="688.42" x2="692.23" y2="681.87"/><rect x="696.2" y="710" width="3.6" height="3.6" fill="#00eeff" stroke="none"/></g>
<g stroke="#33b0ff" stroke-width="1.5" stroke-linecap="round"><line x1="698" y1="715.6" x2="680" y2="688.6"/><rect x="696.2" y="713.8" width="3.6" height="3.6" fill="#33b0ff" stroke="none"/></g>
<defs><clipPath id="hc"><rect x="745" y="45" width="186" height="180.8"/></clipPath></defs>
<g fill="none" stroke="#000" stroke-width="1.2" clip-path="url(#hc)">
<ellipse cx="838" cy="135.4" rx="31" ry="30.13"/>
<ellipse cx="838" cy="135.4" rx="62" ry="60.27"/>
<ellipse cx="838" cy="135.4" rx="93" ry="90.4"/>
</g>
<g stroke="#000" stroke-width="1.5">
<line x1="745" y1="135.4" x2="931" y2="135.4"/>
<line x1="838" y1="45" x2="838" y2="225.8"/>
</g>
<g stroke="#000" stroke-width="1.3">
<line x1="827.67" y1="132.4" x2="827.67" y2="138.4"/>
<line x1="835" y1="125.36" x2="841" y2="125.36"/>
<line x1="848.33" y1="132.4" x2="848.33" y2="138.4"/>
<line x1="835" y1="145.44" x2="841" y2="145.44"/>
<line x1="817.33" y1="132.4" x2="817.33" y2="138.4"/>
<line x1="835" y1="115.31" x2="841" y2="115.31"/>
<line x1="858.67" y1="132.4" x2="858.67" y2="138.4"/>
<line x1="835" y1="155.49" x2="841" y2="155.49"/>
<line x1="807" y1="132.4" x2="807" y2="138.4"/>
<line x1="835" y1="105.27" x2="841" y2="105.27"/>
<line x1="869" y1="132.4" x2="869" y2="138.4"/>
<line x1="835" y1="165.53" x2="841" y2="165.53"/>
<line x1="796.67" y1="132.4" x2="796.67" y2="138.4"/>
<line x1="835" y1="95.22" x2="841" y2="95.22"/>
<line x1="879.33" y1="132.4" x2="879.33" y2="138.4"/>
<line x1="835" y1="175.58" x2="841" y2="175.58"/>
<line x1="786.33" y1="132.4" x2="786.33" y2="138.4"/>
<line x1="835" y1="85.18" x2="841" y2="85.18"/>
<line x1="889.67" y1="132.4" x2="889.67" y2="138.4"/>
<line x1="835" y1="185.62" x2="841" y2="185.62"/>
<line x1="776" y1="132.4" x2="776" y2="138.4"/>
<line x1="835" y1="75.13" x2="841" y2="75.13"/>
<line x1="900" y1="132.4" x2="900" y2="138.4"/>
<line x1="835" y1="195.67" x2="841" y2="195.67"/>
<line x1="765.67" y1="132.4" x2="765.67" y2="138.4"/>
<line x1="835" y1="65.09" x2="841" y2="65.09"/>
<line x1="910.33" y1="132.4" x2="910.33" y2="138.4"/>
<line x1="835" y1="205.71" x2="841" y2="205.71"/>
<line x1="755.33" y1="132.4" x2="755.33" y2="138.4"/>
<line x1="835" y1="55.04" x2="841" y2="55.04"/>
<line x1="920.67" y1="132.4" x2="920.67" y2="138.4"/>
<line x1="835" y1="215.76" x2="841" y2="215.76"/>
</g>
<rect x="745" y="45" width="186" height="180.8" fill="none" stroke="#000" stroke-width="1.8"/>
<text x="750" y="58.9" font-size="12.8" fill="#222" font-weight="200" stroke="#222" stroke-width="0.35" textLength="38" lengthAdjust="spacingAndGlyphs">knots</text>
<text x="0" y="0" font-size="14.5" fill="#222" font-weight="200" stroke="#222" stroke-width="0.4" text-anchor="middle" transform="translate(816.66,156.14) rotate(-45) translate(0,5.2)" textLength="17" lengthAdjust="spacingAndGlyphs">15</text>
<text x="0" y="0" font-size="14.5" fill="#222" font-weight="200" stroke="#222" stroke-width="0.4" text-anchor="middle" transform="translate(794.45,177.73) rotate(-45) translate(0,5.2)" textLength="17" lengthAdjust="spacingAndGlyphs">30</text>
<text x="0" y="0" font-size="14.5" fill="#222" font-weight="200" stroke="#222" stroke-width="0.4" text-anchor="middle" transform="translate(773.12,198.47) rotate(-45) translate(0,5.2)" textLength="17" lengthAdjust="spacingAndGlyphs">45</text>
<polyline points="847.5,151.7 854.3,161.2 859,169.4 861.75,161.6 866.8,157.7 873.9,162 879.3,161 877.4,164.75 878.5,169.4" fill="none" stroke="#00dd00" stroke-width="2.8" stroke-linejoin="round" stroke-linecap="round"/>
<rect x="850" y="152" width="3.4" height="3.6" fill="#00dd00" transform="rotate(35 851.7 153.8)"/>
<path d="M876,169.6 h5 M878.5,167.2 v5" stroke="#00dd00" stroke-width="2.2"/>
<line x1="838" y1="135.4" x2="858.6" y2="201.5" stroke="#ff3a3a" stroke-width="1.4"/>
<polygon points="859.8,206.9 853.2,200.3 861.6,198.3" fill="#ff3a3a" stroke="#ff3a3a" stroke-width="0.8" stroke-linejoin="round"/>
<rect x="768" y="270.9" width="158.1" height="402.3" fill="none" stroke="#222" stroke-width="1.3"/>
<line x1="768" y1="329.4" x2="926.1" y2="329.4" stroke="#222" stroke-width="1.3"/>
<line x1="768" y1="455.9" x2="926.1" y2="455.9" stroke="#222" stroke-width="1.3"/>
<line x1="768" y1="581.8" x2="926.1" y2="581.8" stroke="#222" stroke-width="1.3"/>
<text x="773.3" y="289.3" font-size="12.6" fill="#111" font-weight="200" stroke="#111" stroke-width="0.35" word-spacing="3" textLength="7.9" lengthAdjust="spacingAndGlyphs">K</text>
<text x="871.8" y="289.3" font-size="12.6" fill="#111" font-weight="200" stroke="#111" stroke-width="0.35" word-spacing="3" textLength="15.4" lengthAdjust="spacingAndGlyphs">−6</text>
<text x="773.3" y="307.2" font-size="12.6" fill="#111" font-weight="200" stroke="#111" stroke-width="0.35" word-spacing="3" textLength="13.5" lengthAdjust="spacingAndGlyphs">TT</text>
<text x="871.8" y="307.2" font-size="12.6" fill="#111" font-weight="200" stroke="#111" stroke-width="0.35" word-spacing="3" textLength="15.4" lengthAdjust="spacingAndGlyphs">43</text>
<text x="773.3" y="320.9" font-size="12.6" fill="#111" font-weight="200" stroke="#111" stroke-width="0.35" word-spacing="3" textLength="63.2" lengthAdjust="spacingAndGlyphs">PW (cm)</text>
<text x="871.8" y="320.9" font-size="12.6" fill="#111" font-weight="200" stroke="#111" stroke-width="0.35" word-spacing="3" textLength="31.6" lengthAdjust="spacingAndGlyphs">0.57</text>
<text x="796.4" y="348.1" font-size="12.6" fill="#111" font-weight="200" stroke="#111" stroke-width="0.35" word-spacing="3" textLength="88.1" lengthAdjust="spacingAndGlyphs">Lowest level</text>
<text x="773.3" y="370.6" font-size="12.6" fill="#111" font-weight="200" stroke="#111" stroke-width="0.35" word-spacing="3" textLength="83" lengthAdjust="spacingAndGlyphs">Press (mb)</text>
<text x="871.8" y="370.6" font-size="12.6" fill="#111" font-weight="200" stroke="#111" stroke-width="0.35" word-spacing="3" textLength="47.8" lengthAdjust="spacingAndGlyphs">1023.6</text>
<text x="773.3" y="384.05" font-size="12.6" fill="#111" font-weight="200" stroke="#111" stroke-width="0.35" word-spacing="3" textLength="74.4" lengthAdjust="spacingAndGlyphs">Temp (°C)</text>
<text x="871.8" y="384.05" font-size="12.6" fill="#111" font-weight="200" stroke="#111" stroke-width="0.35" word-spacing="3" textLength="23.5" lengthAdjust="spacingAndGlyphs">9.3</text>
<text x="773.3" y="397.5" font-size="12.6" fill="#111" font-weight="200" stroke="#111" stroke-width="0.35" word-spacing="3" textLength="74.4" lengthAdjust="spacingAndGlyphs">Dewp (°C)</text>
<text x="871.8" y="397.5" font-size="12.6" fill="#111" font-weight="200" stroke="#111" stroke-width="0.35" word-spacing="3" textLength="31.6" lengthAdjust="spacingAndGlyphs">−4.5</text>
<text x="773.3" y="410.95" font-size="12.6" fill="#111" font-weight="200" stroke="#111" stroke-width="0.35" word-spacing="3" textLength="41.9" lengthAdjust="spacingAndGlyphs"><tspan font-weight="bold" font-style="italic" font-family="Liberation Serif" stroke-width="0.2">θ</tspan><tspan font-size="6.5" font-weight="bold" dy="1.5">E</tspan><tspan dy="-1.5"> (K)</tspan></text>
<text x="871.8" y="410.95" font-size="12.6" fill="#111" font-weight="200" stroke="#111" stroke-width="0.35" word-spacing="3" textLength="39.7" lengthAdjust="spacingAndGlyphs">288.3</text>
<text x="773.3" y="424.4" font-size="12.6" fill="#111" font-weight="200" stroke="#111" stroke-width="0.35" word-spacing="3" textLength="47.1" lengthAdjust="spacingAndGlyphs">LI (°C)</text>
<text x="871.8" y="424.4" font-size="12.6" fill="#111" font-weight="200" stroke="#111" stroke-width="0.35" word-spacing="3" textLength="23.5" lengthAdjust="spacingAndGlyphs">8.1</text>
<text x="773.3" y="437.85" font-size="12.6" fill="#111" font-weight="200" stroke="#111" stroke-width="0.35" word-spacing="3" textLength="89.6" lengthAdjust="spacingAndGlyphs">CAPE (Jkg<tspan font-size="7.5" dy="-4.5">−1</tspan><tspan dy="4.5">)</tspan></text>
<text x="871.8" y="437.85" font-size="12.6" fill="#111" font-weight="200" stroke="#111" stroke-width="0.35" word-spacing="3" textLength="15.4" lengthAdjust="spacingAndGlyphs">17</text>
<text x="773.3" y="451.3" font-size="12.6" fill="#111" font-weight="200" stroke="#111" stroke-width="0.35" word-spacing="3" textLength="76.6" lengthAdjust="spacingAndGlyphs">CIN (Jkg<tspan font-size="7.5" dy="-4.5">−1</tspan><tspan dy="4.5">)</tspan></text>
<text x="871.8" y="451.3" font-size="12.6" fill="#111" font-weight="200" stroke="#111" stroke-width="0.35" word-spacing="3" textLength="7.3" lengthAdjust="spacingAndGlyphs">0</text>
<text x="792.3" y="474.6" font-size="12.6" fill="#111" font-weight="200" stroke="#111" stroke-width="0.35" word-spacing="3" textLength="102.5" lengthAdjust="spacingAndGlyphs">Most Unstable</text>
<text x="773.3" y="497.3" font-size="12.6" fill="#111" font-weight="200" stroke="#111" stroke-width="0.35" word-spacing="3" textLength="83" lengthAdjust="spacingAndGlyphs">Press (mb)</text>
<text x="871.8" y="497.3" font-size="12.6" fill="#111" font-weight="200" stroke="#111" stroke-width="0.35" word-spacing="3" textLength="47.8" lengthAdjust="spacingAndGlyphs">1023.6</text>
<text x="773.3" y="510.75" font-size="12.6" fill="#111" font-weight="200" stroke="#111" stroke-width="0.35" word-spacing="3" textLength="74.4" lengthAdjust="spacingAndGlyphs">Temp (°C)</text>
<text x="871.8" y="510.75" font-size="12.6" fill="#111" font-weight="200" stroke="#111" stroke-width="0.35" word-spacing="3" textLength="23.5" lengthAdjust="spacingAndGlyphs">9.3</text>
<text x="773.3" y="524.2" font-size="12.6" fill="#111" font-weight="200" stroke="#111" stroke-width="0.35" word-spacing="3" textLength="74.4" lengthAdjust="spacingAndGlyphs">Dewp (°C)</text>
<text x="871.8" y="524.2" font-size="12.6" fill="#111" font-weight="200" stroke="#111" stroke-width="0.35" word-spacing="3" textLength="31.6" lengthAdjust="spacingAndGlyphs">−4.5</text>
<text x="773.3" y="537.65" font-size="12.6" fill="#111" font-weight="200" stroke="#111" stroke-width="0.35" word-spacing="3" textLength="41.9" lengthAdjust="spacingAndGlyphs"><tspan font-weight="bold" font-style="italic" font-family="Liberation Serif" stroke-width="0.2">θ</tspan><tspan font-size="6.5" font-weight="bold" dy="1.5">E</tspan><tspan dy="-1.5"> (K)</tspan></text>
<text x="871.8" y="537.65" font-size="12.6" fill="#111" font-weight="200" stroke="#111" stroke-width="0.35" word-spacing="3" textLength="39.7" lengthAdjust="spacingAndGlyphs">288.3</text>
<text x="773.3" y="551.1" font-size="12.6" fill="#111" font-weight="200" stroke="#111" stroke-width="0.35" word-spacing="3" textLength="47.1" lengthAdjust="spacingAndGlyphs">LI (°C)</text>
<text x="871.8" y="551.1" font-size="12.6" fill="#111" font-weight="200" stroke="#111" stroke-width="0.35" word-spacing="3" textLength="23.5" lengthAdjust="spacingAndGlyphs">8.1</text>
<text x="773.3" y="564.55" font-size="12.6" fill="#111" font-weight="200" stroke="#111" stroke-width="0.35" word-spacing="3" textLength="89.6" lengthAdjust="spacingAndGlyphs">CAPE (Jkg<tspan font-size="7.5" dy="-4.5">−1</tspan><tspan dy="4.5">)</tspan></text>
<text x="871.8" y="564.55" font-size="12.6" fill="#111" font-weight="200" stroke="#111" stroke-width="0.35" word-spacing="3" textLength="15.4" lengthAdjust="spacingAndGlyphs">16</text>
<text x="773.3" y="578" font-size="12.6" fill="#111" font-weight="200" stroke="#111" stroke-width="0.35" word-spacing="3" textLength="76.6" lengthAdjust="spacingAndGlyphs">CIN (Jkg<tspan font-size="7.5" dy="-4.5">−1</tspan><tspan dy="4.5">)</tspan></text>
<text x="871.8" y="578" font-size="12.6" fill="#111" font-weight="200" stroke="#111" stroke-width="0.35" word-spacing="3" textLength="7.3" lengthAdjust="spacingAndGlyphs">0</text>
<text x="806.4" y="596.2" font-size="12.6" fill="#111" font-weight="200" stroke="#111" stroke-width="0.35" word-spacing="3" textLength="76.4" lengthAdjust="spacingAndGlyphs">Hodograph</text>
<text x="773.3" y="614.7" font-size="12.6" fill="#111" font-weight="200" stroke="#111" stroke-width="0.35" word-spacing="3" textLength="73" lengthAdjust="spacingAndGlyphs">EH (Jkg<tspan font-size="7.5" dy="-4.5">−1</tspan><tspan dy="4.5">)</tspan></text>
<text x="871.8" y="614.7" font-size="12.6" fill="#111" font-weight="200" stroke="#111" stroke-width="0.35" word-spacing="3" textLength="23.5" lengthAdjust="spacingAndGlyphs">−28</text>
<text x="773.3" y="628.2" font-size="12.6" fill="#111" font-weight="200" stroke="#111" stroke-width="0.35" word-spacing="3" textLength="91.5" lengthAdjust="spacingAndGlyphs">SREH (Jkg<tspan font-size="7.5" dy="-4.5">−1</tspan><tspan dy="4.5">)</tspan></text>
<text x="871.8" y="628.2" font-size="12.6" fill="#111" font-weight="200" stroke="#111" stroke-width="0.35" word-spacing="3" textLength="15.4" lengthAdjust="spacingAndGlyphs">73</text>
<text x="773.3" y="650" font-size="12.6" fill="#111" font-weight="200" stroke="#111" stroke-width="0.35" word-spacing="3" textLength="75" lengthAdjust="spacingAndGlyphs">StmDir (°)</text>
<text x="871.8" y="650" font-size="12.6" fill="#111" font-weight="200" stroke="#111" stroke-width="0.35" word-spacing="3" textLength="23.5" lengthAdjust="spacingAndGlyphs">343</text>
<text x="773.3" y="664.1" font-size="12.6" fill="#111" font-weight="200" stroke="#111" stroke-width="0.35" word-spacing="3" textLength="88.5" lengthAdjust="spacingAndGlyphs">StmSpd (kt)</text>
<text x="871.8" y="664.1" font-size="12.6" fill="#111" font-weight="200" stroke="#111" stroke-width="0.35" word-spacing="3" textLength="15.4" lengthAdjust="spacingAndGlyphs">37</text>
<text x="751.4" y="706.3" font-size="16" fill="#111" font-weight="200" stroke="#111" stroke-width="0.35" word-spacing="5" textLength="172.3" lengthAdjust="spacingAndGlyphs">NCEP 1−Hr PType:</text>
<line x1="744.2" y1="711.4" x2="931.9" y2="711.4" stroke="#111" stroke-width="1.5"/>
<text x="816.4" y="728.8" font-size="15.8" fill="#111" font-weight="200" stroke="#111" stroke-width="0.35" textLength="43.1" lengthAdjust="spacingAndGlyphs">None</text>
<text x="806.4" y="749.7" font-size="12.6" fill="#111" font-weight="200" stroke="#111" stroke-width="0.35" word-spacing="3" textLength="62.9" lengthAdjust="spacingAndGlyphs">(0'' L.E.)</text>
</svg></body></html>
